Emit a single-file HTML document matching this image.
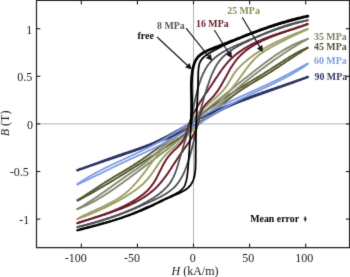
<!DOCTYPE html>
<html><head><meta charset="utf-8">
<style>
html,body{margin:0;padding:0;background:#fff;}
body{width:350px;height:277px;overflow:hidden;}
svg{display:block;}
text{font-family:"Liberation Serif",serif;}
.b{font-weight:bold;font-size:9.9px;}
.t{font-size:12px;fill:#1a1a1a;}
</style></head><body>
<svg width="350" height="277" viewBox="0 0 350 277" style="opacity:0.999;will-change:transform">
<defs><filter id="soft" x="0" y="0" width="100%" height="100%" color-interpolation-filters="sRGB"><feConvolveMatrix order="3" kernelMatrix="0.0114 0.084 0.0114 0.084 0.6184 0.084 0.0114 0.084 0.0114" divisor="1" edgeMode="duplicate" preserveAlpha="false"/></filter></defs>
<rect width="350" height="277" fill="#fff"/>
<g filter="url(#soft)">
<!-- grid zero lines -->
<line x1="193.5" y1="1" x2="193.5" y2="247" stroke="#b4b4b4" stroke-width="1"/>
<line x1="36" y1="123.9" x2="349" y2="123.9" stroke="#b4b4b4" stroke-width="1"/>
<path d="M77.4,200.1 L78.3,199.6 L79.1,199.1 L80.0,198.6 L80.8,198.1 L81.7,197.6 L82.5,197.1 L83.4,196.5 L84.2,196.0 L85.0,195.5 L85.9,194.9 L86.7,194.4 L87.5,193.9 L88.4,193.3 L89.2,192.8 L90.0,192.2 L90.9,191.7 L91.7,191.2 L92.5,190.6 L93.3,190.1 L94.2,189.5 L95.0,189.0 L95.8,188.4 L96.6,187.9 L97.5,187.3 L98.3,186.8 L99.1,186.2 L100.0,185.7 L100.8,185.1 L101.6,184.6 L102.4,184.0 L103.3,183.5 L104.1,183.0 L104.9,182.4 L105.8,181.9 L106.6,181.4 L107.5,180.8 L108.3,180.3 L109.2,179.8 L110.0,179.3 L110.9,178.8 L111.7,178.3 L112.6,177.7 L113.4,177.2 L114.3,176.7 L115.1,176.2 L116.0,175.7 L116.8,175.2 L117.7,174.7 L118.5,174.2 L119.4,173.7 L120.3,173.2 L121.1,172.7 L122.0,172.2 L122.8,171.7 L123.7,171.2 L124.5,170.7 L125.4,170.2 L126.2,169.6 L127.1,169.1 L127.9,168.6 L128.8,168.1 L129.6,167.6 L130.4,167.1 L131.3,166.5 L132.1,166.0 L133.0,165.5 L133.8,164.9 L134.6,164.4 L135.5,163.9 L136.3,163.3 L137.1,162.8 L137.9,162.2 L138.8,161.7 L139.6,161.1 L140.4,160.6 L141.2,160.0 L142.0,159.5 L142.8,158.9 L143.7,158.3 L144.5,157.8 L145.3,157.2 L146.1,156.6 L146.9,156.1 L147.7,155.5 L148.5,154.9 L149.3,154.3 L150.1,153.8 L150.9,153.2 L151.7,152.6 L152.5,152.0 L153.3,151.4 L154.1,150.8 L154.9,150.3 L155.7,149.7 L156.5,149.1 L157.3,148.5 L158.1,147.9 L158.9,147.3 L159.6,146.7 L160.4,146.1 L161.2,145.5 L162.0,144.9 L162.8,144.3 L163.6,143.7 L164.4,143.1 L165.1,142.5 L165.9,141.9 L166.7,141.3 L167.5,140.7 L168.3,140.0 L169.1,139.4 L169.8,138.8 L170.6,138.2 L171.4,137.6 L172.2,137.0 L173.0,136.4 L173.7,135.8 L174.5,135.2 L175.3,134.5 L176.1,133.9 L176.8,133.3 L177.6,132.7 L178.4,132.1 L179.2,131.5 L180.0,130.9 L180.7,130.3 L181.5,129.6 L182.3,129.0 L183.1,128.4 L183.9,127.8 L184.6,127.2 L185.4,126.6 L186.2,126.0 L187.0,125.4 L187.8,124.8 L188.6,124.1 L189.3,123.5 L190.1,122.9 L190.9,122.3 L191.7,121.7 L192.5,121.1 L193.3,120.5 L194.1,119.9 L194.8,119.3 L195.6,118.7 L196.4,118.1 L197.2,117.5 L198.0,116.9 L198.8,116.3 L199.6,115.7 L200.4,115.1 L201.2,114.5 L202.0,113.9 L202.8,113.3 L203.6,112.7 L204.4,112.2 L205.2,111.6 L206.0,111.0 L206.8,110.4 L207.6,109.8 L208.4,109.2 L209.2,108.7 L210.0,108.1 L210.8,107.5 L211.6,106.9 L212.4,106.3 L213.2,105.8 L214.0,105.2 L214.8,104.6 L215.6,104.0 L216.5,103.5 L217.3,102.9 L218.1,102.3 L218.9,101.8 L219.7,101.2 L220.5,100.6 L221.4,100.1 L222.2,99.5 L223.0,99.0 L223.8,98.4 L224.6,97.9 L225.5,97.3 L226.3,96.8 L227.1,96.2 L227.9,95.7 L228.8,95.1 L229.6,94.6 L230.4,94.0 L231.3,93.5 L232.1,93.0 L232.9,92.4 L233.8,91.9 L234.6,91.4 L235.4,90.8 L236.3,90.3 L237.1,89.8 L238.0,89.2 L238.8,88.7 L239.6,88.2 L240.5,87.7 L241.3,87.2 L242.2,86.6 L243.0,86.1 L243.9,85.6 L244.7,85.1 L245.6,84.6 L246.4,84.1 L247.3,83.5 L248.1,83.0 L249.0,82.5 L249.8,82.0 L250.6,81.5 L251.5,81.0 L252.3,80.5 L253.2,79.9 L254.0,79.4 L254.9,78.9 L255.7,78.4 L256.6,77.9 L257.4,77.4 L258.3,76.9 L259.1,76.3 L260.0,75.8 L260.8,75.3 L261.7,74.8 L262.5,74.3 L263.4,73.7 L264.2,73.2 L265.0,72.7 L265.9,72.2 L266.7,71.6 L267.6,71.1 L268.4,70.6 L269.2,70.0 L270.1,69.5 L270.9,69.0 L271.7,68.4 L272.6,67.9 L273.4,67.4 L274.2,66.8 L275.1,66.3 L275.9,65.7 L276.8,65.2 L277.6,64.7 L278.4,64.1 L279.3,63.6 L280.1,63.1 L280.9,62.5 L281.8,62.0 L282.6,61.5 L283.4,60.9 L284.3,60.4 L285.1,59.9 L286.0,59.3 L286.8,58.8 L287.6,58.3 L288.5,57.8 L289.3,57.2 L290.2,56.7 L291.0,56.2 L291.9,55.7 L292.7,55.2 L293.6,54.7 L294.4,54.2 L295.3,53.7 L296.1,53.2 L297.0,52.7 L297.9,52.3 L298.7,51.8 L299.6,51.3 L300.5,50.9 L301.4,50.4 L302.3,50.0 L303.2,49.6 L304.1,49.2 L305.0,48.8 L305.9,48.4 L306.8,48.0 L307.7,47.6" stroke="#56562c" stroke-width="1.9" fill="none" stroke-linecap="round" stroke-linejoin="round"/>
<path d="M77.6,200.7 L78.4,200.2 L79.3,199.8 L80.2,199.3 L81.0,198.8 L81.9,198.4 L82.8,197.9 L83.7,197.4 L84.5,197.0 L85.4,196.5 L86.3,196.0 L87.1,195.5 L88.0,195.1 L88.8,194.6 L89.7,194.1 L90.6,193.6 L91.4,193.1 L92.3,192.6 L93.2,192.2 L94.0,191.7 L94.9,191.2 L95.7,190.7 L96.6,190.2 L97.4,189.7 L98.3,189.2 L99.2,188.7 L100.0,188.2 L100.9,187.7 L101.7,187.2 L102.6,186.7 L103.4,186.2 L104.3,185.7 L105.1,185.2 L106.0,184.7 L106.8,184.2 L107.7,183.6 L108.5,183.1 L109.4,182.6 L110.2,182.1 L111.1,181.6 L111.9,181.1 L112.8,180.6 L113.6,180.1 L114.5,179.5 L115.3,179.0 L116.2,178.5 L117.0,178.0 L117.9,177.5 L118.7,176.9 L119.6,176.4 L120.4,175.9 L121.3,175.4 L122.1,174.9 L122.9,174.3 L123.8,173.8 L124.6,173.3 L125.5,172.8 L126.3,172.2 L127.2,171.7 L128.0,171.2 L128.8,170.7 L129.7,170.1 L130.5,169.6 L131.4,169.1 L132.2,168.6 L133.1,168.0 L133.9,167.5 L134.7,167.0 L135.6,166.5 L136.4,165.9 L137.3,165.4 L138.1,164.9 L138.9,164.3 L139.8,163.8 L140.6,163.3 L141.5,162.8 L142.3,162.2 L143.1,161.7 L144.0,161.2 L144.8,160.6 L145.7,160.1 L146.5,159.6 L147.3,159.0 L148.2,158.5 L149.0,158.0 L149.8,157.4 L150.7,156.9 L151.5,156.4 L152.3,155.8 L153.2,155.3 L154.0,154.8 L154.8,154.2 L155.7,153.7 L156.5,153.1 L157.3,152.6 L158.2,152.1 L159.0,151.5 L159.8,151.0 L160.7,150.4 L161.5,149.9 L162.3,149.4 L163.1,148.8 L164.0,148.3 L164.8,147.7 L165.6,147.2 L166.4,146.6 L167.3,146.1 L168.1,145.5 L168.9,145.0 L169.7,144.4 L170.6,143.9 L171.4,143.3 L172.2,142.8 L173.0,142.2 L173.9,141.7 L174.7,141.1 L175.5,140.5 L176.3,140.0 L177.1,139.4 L177.9,138.9 L178.8,138.3 L179.6,137.7 L180.4,137.2 L181.2,136.6 L182.0,136.0 L182.8,135.5 L183.6,134.9 L184.5,134.3 L185.3,133.8 L186.1,133.2 L186.9,132.6 L187.7,132.0 L188.5,131.5 L189.3,130.9 L190.1,130.3 L190.9,129.7 L191.7,129.1 L192.5,128.6 L193.3,128.0 L194.1,127.4 L194.9,126.8 L195.7,126.2 L196.5,125.6 L197.3,125.0 L198.1,124.4 L198.9,123.8 L199.7,123.2 L200.5,122.6 L201.3,122.0 L202.1,121.4 L202.9,120.8 L203.7,120.2 L204.4,119.6 L205.2,119.0 L206.0,118.4 L206.8,117.8 L207.6,117.2 L208.4,116.6 L209.1,115.9 L209.9,115.3 L210.7,114.7 L211.4,114.1 L212.2,113.4 L213.0,112.8 L213.7,112.2 L214.5,111.5 L215.3,110.9 L216.0,110.2 L216.8,109.6 L217.5,108.9 L218.3,108.3 L219.0,107.6 L219.8,107.0 L220.5,106.3 L221.3,105.7 L222.0,105.0 L222.8,104.4 L223.5,103.7 L224.3,103.1 L225.0,102.4 L225.8,101.8 L226.5,101.1 L227.3,100.5 L228.0,99.8 L228.8,99.2 L229.6,98.6 L230.3,98.0 L231.1,97.3 L231.9,96.7 L232.6,96.1 L233.4,95.5 L234.2,94.9 L235.0,94.3 L235.8,93.7 L236.6,93.1 L237.4,92.6 L238.2,92.0 L239.0,91.4 L239.8,90.9 L240.6,90.3 L241.5,89.8 L242.3,89.2 L243.1,88.7 L244.0,88.2 L244.8,87.6 L245.6,87.1 L246.5,86.6 L247.3,86.1 L248.2,85.5 L249.0,85.0 L249.9,84.5 L250.7,84.0 L251.6,83.5 L252.4,83.0 L253.3,82.5 L254.1,82.0 L255.0,81.5 L255.8,80.9 L256.7,80.4 L257.5,79.9 L258.4,79.4 L259.2,78.9 L260.1,78.4 L261.0,77.9 L261.8,77.4 L262.7,76.9 L263.5,76.4 L264.4,75.9 L265.2,75.3 L266.0,74.8 L266.9,74.3 L267.7,73.8 L268.6,73.2 L269.4,72.7 L270.2,72.2 L271.1,71.6 L271.9,71.1 L272.7,70.6 L273.6,70.0 L274.4,69.5 L275.2,68.9 L276.1,68.4 L276.9,67.9 L277.7,67.3 L278.6,66.8 L279.4,66.2 L280.2,65.7 L281.0,65.1 L281.9,64.6 L282.7,64.0 L283.5,63.5 L284.3,62.9 L285.2,62.4 L286.0,61.8 L286.8,61.3 L287.7,60.7 L288.5,60.2 L289.3,59.6 L290.1,59.1 L291.0,58.5 L291.8,58.0 L292.6,57.5 L293.4,56.9 L294.3,56.4 L295.1,55.8 L295.9,55.3 L296.8,54.7 L297.6,54.2 L298.4,53.7 L299.3,53.1 L300.1,52.6 L300.9,52.1 L301.8,51.5 L302.6,51.0 L303.5,50.5 L304.3,50.0 L305.1,49.5 L306.0,48.9 L306.8,48.4 L307.7,47.9" stroke="#56562c" stroke-width="1.9" fill="none" stroke-linecap="round" stroke-linejoin="round"/>
<path d="M77.3,209.1 L78.2,208.6 L79.1,208.1 L80.0,207.6 L80.9,207.1 L81.8,206.5 L82.7,206.0 L83.6,205.5 L84.4,204.9 L85.3,204.4 L86.2,203.8 L87.1,203.3 L87.9,202.7 L88.8,202.2 L89.7,201.6 L90.5,201.1 L91.4,200.5 L92.3,199.9 L93.1,199.4 L94.0,198.8 L94.8,198.2 L95.7,197.6 L96.6,197.1 L97.4,196.5 L98.3,195.9 L99.1,195.3 L99.9,194.7 L100.8,194.1 L101.6,193.5 L102.5,192.9 L103.3,192.4 L104.2,191.8 L105.0,191.2 L105.9,190.6 L106.7,190.0 L107.5,189.4 L108.4,188.8 L109.2,188.2 L110.1,187.6 L110.9,187.0 L111.7,186.4 L112.6,185.8 L113.4,185.2 L114.2,184.6 L115.1,184.0 L115.9,183.4 L116.8,182.8 L117.6,182.2 L118.4,181.6 L119.3,181.0 L120.1,180.4 L121.0,179.8 L121.8,179.2 L122.7,178.6 L123.5,178.0 L124.3,177.4 L125.2,176.8 L126.0,176.2 L126.9,175.6 L127.7,175.0 L128.6,174.4 L129.4,173.8 L130.3,173.3 L131.1,172.7 L132.0,172.1 L132.9,171.5 L133.7,170.9 L134.6,170.4 L135.4,169.8 L136.3,169.2 L137.1,168.6 L138.0,168.0 L138.8,167.4 L139.7,166.8 L140.5,166.3 L141.3,165.6 L142.2,165.0 L143.0,164.4 L143.8,163.8 L144.6,163.2 L145.4,162.5 L146.2,161.9 L147.0,161.2 L147.8,160.6 L148.6,159.9 L149.4,159.3 L150.2,158.6 L150.9,157.9 L151.7,157.2 L152.5,156.6 L153.2,155.9 L154.0,155.2 L154.7,154.5 L155.5,153.8 L156.2,153.1 L157.0,152.4 L157.7,151.7 L158.5,151.0 L159.2,150.2 L160.0,149.5 L160.7,148.8 L161.5,148.1 L162.2,147.4 L163.0,146.7 L163.7,146.0 L164.4,145.3 L165.2,144.5 L165.9,143.8 L166.7,143.1 L167.4,142.4 L168.2,141.7 L168.9,141.0 L169.7,140.3 L170.4,139.6 L171.2,138.9 L171.9,138.2 L172.7,137.5 L173.4,136.8 L174.2,136.1 L174.9,135.4 L175.7,134.7 L176.5,134.0 L177.2,133.3 L178.0,132.6 L178.8,132.0 L179.6,131.3 L180.4,130.6 L181.1,130.0 L181.9,129.3 L182.7,128.7 L183.5,128.0 L184.3,127.4 L185.1,126.7 L185.9,126.1 L186.7,125.4 L187.5,124.8 L188.3,124.1 L189.1,123.5 L190.0,122.9 L190.8,122.2 L191.6,121.6 L192.4,120.9 L193.2,120.3 L194.0,119.6 L194.8,119.0 L195.6,118.3 L196.4,117.7 L197.2,117.1 L198.0,116.4 L198.8,115.8 L199.6,115.1 L200.4,114.5 L201.2,113.8 L202.0,113.2 L202.8,112.5 L203.6,111.9 L204.4,111.2 L205.2,110.6 L206.0,109.9 L206.8,109.3 L207.6,108.6 L208.4,108.0 L209.2,107.3 L210.0,106.7 L210.8,106.0 L211.6,105.4 L212.4,104.7 L213.2,104.1 L214.0,103.4 L214.8,102.8 L215.6,102.1 L216.4,101.5 L217.2,100.8 L218.0,100.2 L218.8,99.5 L219.6,98.9 L220.4,98.2 L221.2,97.6 L222.0,96.9 L222.8,96.3 L223.6,95.6 L224.4,95.0 L225.2,94.3 L226.0,93.7 L226.8,93.0 L227.6,92.4 L228.4,91.7 L229.2,91.1 L230.1,90.4 L230.9,89.8 L231.7,89.1 L232.5,88.5 L233.3,87.8 L234.1,87.2 L234.9,86.5 L235.7,85.9 L236.5,85.2 L237.3,84.6 L238.1,83.9 L238.9,83.3 L239.7,82.7 L240.5,82.0 L241.3,81.4 L242.1,80.7 L242.9,80.1 L243.7,79.4 L244.5,78.8 L245.3,78.1 L246.2,77.5 L247.0,76.9 L247.8,76.2 L248.6,75.6 L249.4,74.9 L250.2,74.3 L251.0,73.7 L251.8,73.0 L252.6,72.4 L253.4,71.7 L254.3,71.1 L255.1,70.5 L255.9,69.8 L256.7,69.2 L257.5,68.6 L258.3,67.9 L259.1,67.3 L260.0,66.7 L260.8,66.0 L261.6,65.4 L262.4,64.8 L263.2,64.2 L264.1,63.5 L264.9,62.9 L265.7,62.3 L266.5,61.7 L267.4,61.1 L268.2,60.5 L269.0,59.9 L269.8,59.3 L270.7,58.6 L271.5,58.1 L272.4,57.5 L273.2,56.9 L274.0,56.3 L274.9,55.7 L275.7,55.1 L276.6,54.5 L277.5,54.0 L278.3,53.4 L279.2,52.9 L280.0,52.3 L280.9,51.8 L281.8,51.2 L282.7,50.7 L283.5,50.1 L284.4,49.6 L285.3,49.1 L286.2,48.6 L287.1,48.1 L288.0,47.6 L288.9,47.1 L289.8,46.6 L290.7,46.1 L291.6,45.7 L292.5,45.2 L293.5,44.7 L294.4,44.3 L295.3,43.8 L296.3,43.4 L297.2,43.0 L298.2,42.6 L299.1,42.2 L300.1,41.8 L301.0,41.4 L302.0,41.0 L303.0,40.6 L304.0,40.3 L305.0,39.9 L306.0,39.6 L307.0,39.2 L308.0,38.9" stroke="#858870" stroke-width="1.9" fill="none" stroke-linecap="round" stroke-linejoin="round"/>
<path d="M77.2,209.1 L78.1,208.7 L79.1,208.3 L80.1,208.0 L81.0,207.6 L82.0,207.2 L83.0,206.7 L83.9,206.3 L84.9,205.9 L85.8,205.5 L86.7,205.0 L87.7,204.6 L88.6,204.1 L89.5,203.7 L90.5,203.2 L91.4,202.7 L92.3,202.2 L93.2,201.8 L94.1,201.3 L95.0,200.8 L95.9,200.3 L96.8,199.8 L97.7,199.3 L98.6,198.7 L99.5,198.2 L100.4,197.7 L101.2,197.2 L102.1,196.6 L103.0,196.1 L103.9,195.5 L104.7,195.0 L105.6,194.4 L106.5,193.9 L107.3,193.3 L108.2,192.8 L109.0,192.2 L109.9,191.6 L110.8,191.1 L111.6,190.5 L112.5,189.9 L113.3,189.3 L114.2,188.7 L115.0,188.2 L115.8,187.6 L116.7,187.0 L117.5,186.4 L118.4,185.8 L119.2,185.2 L120.0,184.6 L120.9,184.0 L121.7,183.4 L122.5,182.8 L123.4,182.2 L124.2,181.6 L125.0,181.0 L125.9,180.3 L126.7,179.7 L127.5,179.1 L128.4,178.5 L129.2,177.9 L130.0,177.3 L130.8,176.7 L131.7,176.1 L132.5,175.4 L133.3,174.8 L134.2,174.2 L135.0,173.6 L135.8,173.0 L136.6,172.4 L137.5,171.8 L138.3,171.1 L139.1,170.5 L140.0,169.9 L140.8,169.3 L141.6,168.7 L142.4,168.1 L143.3,167.4 L144.1,166.8 L144.9,166.2 L145.7,165.6 L146.6,165.0 L147.4,164.3 L148.2,163.7 L149.0,163.1 L149.9,162.5 L150.7,161.9 L151.5,161.2 L152.3,160.6 L153.2,160.0 L154.0,159.4 L154.8,158.7 L155.6,158.1 L156.4,157.5 L157.3,156.9 L158.1,156.2 L158.9,155.6 L159.7,155.0 L160.5,154.3 L161.4,153.7 L162.2,153.1 L163.0,152.5 L163.8,151.8 L164.6,151.2 L165.4,150.6 L166.3,149.9 L167.1,149.3 L167.9,148.7 L168.7,148.0 L169.5,147.4 L170.3,146.8 L171.1,146.1 L171.9,145.5 L172.8,144.8 L173.6,144.2 L174.4,143.6 L175.2,142.9 L176.0,142.3 L176.8,141.6 L177.6,141.0 L178.4,140.4 L179.2,139.7 L180.0,139.1 L180.8,138.4 L181.6,137.8 L182.4,137.1 L183.2,136.5 L184.0,135.8 L184.8,135.2 L185.6,134.5 L186.4,133.9 L187.2,133.2 L188.0,132.6 L188.8,131.9 L189.6,131.3 L190.4,130.6 L191.2,130.0 L192.0,129.3 L192.8,128.7 L193.6,128.0 L194.4,127.3 L195.2,126.7 L196.0,126.0 L196.8,125.4 L197.6,124.7 L198.4,124.0 L199.1,123.4 L199.9,122.7 L200.7,122.0 L201.5,121.4 L202.3,120.7 L203.1,120.0 L203.8,119.4 L204.6,118.7 L205.4,118.0 L206.2,117.3 L207.0,116.7 L207.7,116.0 L208.5,115.3 L209.3,114.6 L210.0,113.9 L210.8,113.3 L211.6,112.6 L212.3,111.9 L213.1,111.2 L213.8,110.5 L214.6,109.8 L215.4,109.1 L216.1,108.4 L216.9,107.7 L217.6,107.0 L218.4,106.3 L219.1,105.6 L219.8,104.9 L220.6,104.1 L221.3,103.4 L222.1,102.7 L222.8,102.0 L223.6,101.3 L224.3,100.6 L225.1,99.9 L225.8,99.2 L226.5,98.5 L227.3,97.7 L228.0,97.0 L228.8,96.3 L229.5,95.6 L230.3,94.9 L231.0,94.2 L231.8,93.5 L232.5,92.8 L233.3,92.1 L234.1,91.4 L234.8,90.8 L235.6,90.1 L236.4,89.4 L237.1,88.7 L237.9,88.0 L238.7,87.4 L239.5,86.7 L240.3,86.0 L241.0,85.4 L241.8,84.7 L242.6,84.0 L243.4,83.4 L244.2,82.7 L245.0,82.1 L245.8,81.4 L246.6,80.8 L247.4,80.2 L248.2,79.5 L249.0,78.9 L249.8,78.2 L250.6,77.6 L251.4,77.0 L252.3,76.3 L253.1,75.7 L253.9,75.1 L254.7,74.4 L255.5,73.8 L256.3,73.2 L257.2,72.6 L258.0,71.9 L258.8,71.3 L259.6,70.7 L260.5,70.1 L261.3,69.4 L262.1,68.8 L262.9,68.2 L263.8,67.6 L264.6,67.0 L265.4,66.4 L266.3,65.8 L267.1,65.1 L267.9,64.5 L268.8,63.9 L269.6,63.3 L270.4,62.7 L271.3,62.1 L272.1,61.5 L273.0,60.9 L273.8,60.3 L274.6,59.7 L275.5,59.1 L276.3,58.5 L277.2,58.0 L278.0,57.4 L278.9,56.8 L279.7,56.2 L280.6,55.6 L281.4,55.0 L282.3,54.5 L283.1,53.9 L284.0,53.3 L284.9,52.7 L285.7,52.2 L286.6,51.6 L287.4,51.0 L288.3,50.5 L289.2,49.9 L290.0,49.4 L290.9,48.8 L291.8,48.2 L292.7,47.7 L293.5,47.2 L294.4,46.6 L295.3,46.1 L296.2,45.5 L297.0,45.0 L297.9,44.5 L298.8,43.9 L299.7,43.4 L300.6,42.9 L301.5,42.3 L302.4,41.8 L303.2,41.3 L304.1,40.8 L305.0,40.3 L305.9,39.8 L306.8,39.3 L307.7,38.8" stroke="#858870" stroke-width="1.9" fill="none" stroke-linecap="round" stroke-linejoin="round"/>
<path d="M77.4,219.0 L78.4,218.4 L79.3,217.9 L80.2,217.4 L81.1,216.9 L82.1,216.4 L83.0,215.9 L84.0,215.4 L85.0,214.9 L85.9,214.5 L86.9,214.0 L87.9,213.5 L88.9,213.1 L89.9,212.6 L90.9,212.1 L91.9,211.7 L92.9,211.2 L93.9,210.8 L94.9,210.3 L95.9,209.9 L96.9,209.4 L97.9,208.9 L98.9,208.5 L99.9,208.0 L101.0,207.6 L102.0,207.1 L103.0,206.6 L104.0,206.2 L105.0,205.7 L106.0,205.2 L107.0,204.7 L108.0,204.2 L109.0,203.7 L109.9,203.2 L110.9,202.7 L111.9,202.2 L112.9,201.6 L113.8,201.1 L114.8,200.6 L115.7,200.0 L116.6,199.5 L117.6,198.9 L118.5,198.3 L119.4,197.7 L120.3,197.1 L121.2,196.5 L122.1,195.8 L122.9,195.2 L123.8,194.5 L124.6,193.9 L125.5,193.2 L126.3,192.5 L127.1,191.8 L127.9,191.1 L128.7,190.4 L129.5,189.6 L130.3,188.9 L131.0,188.1 L131.8,187.4 L132.6,186.6 L133.3,185.8 L134.0,185.0 L134.8,184.2 L135.5,183.4 L136.2,182.6 L136.9,181.8 L137.6,181.0 L138.3,180.1 L139.0,179.3 L139.7,178.4 L140.4,177.6 L141.1,176.7 L141.8,175.9 L142.4,175.0 L143.1,174.2 L143.8,173.3 L144.4,172.4 L145.1,171.5 L145.7,170.7 L146.4,169.8 L147.0,168.9 L147.7,168.0 L148.3,167.1 L149.0,166.2 L149.6,165.4 L150.3,164.5 L150.9,163.6 L151.5,162.7 L152.2,161.8 L152.8,160.9 L153.5,160.1 L154.2,159.2 L154.8,158.3 L155.5,157.5 L156.2,156.6 L156.8,155.7 L157.5,154.9 L158.2,154.1 L158.9,153.2 L159.6,152.4 L160.3,151.6 L161.1,150.8 L161.8,150.0 L162.6,149.2 L163.3,148.4 L164.1,147.6 L164.9,146.8 L165.6,146.1 L166.5,145.3 L167.3,144.6 L168.1,143.9 L168.9,143.2 L169.8,142.4 L170.6,141.7 L171.4,141.0 L172.3,140.3 L173.1,139.6 L174.0,138.9 L174.8,138.2 L175.7,137.5 L176.5,136.8 L177.4,136.1 L178.2,135.4 L179.0,134.7 L179.8,133.9 L180.6,133.2 L181.4,132.4 L182.2,131.6 L182.9,130.9 L183.7,130.1 L184.4,129.3 L185.1,128.4 L185.8,127.6 L186.5,126.8 L187.2,126.0 L187.9,125.1 L188.6,124.3 L189.3,123.4 L190.0,122.6 L190.7,121.7 L191.3,120.9 L192.0,120.0 L192.7,119.2 L193.4,118.4 L194.1,117.5 L194.8,116.7 L195.6,115.9 L196.3,115.1 L197.1,114.3 L197.8,113.6 L198.6,112.8 L199.4,112.0 L200.2,111.3 L201.0,110.5 L201.8,109.8 L202.6,109.1 L203.4,108.4 L204.3,107.6 L205.1,106.9 L205.9,106.2 L206.8,105.5 L207.6,104.8 L208.5,104.1 L209.3,103.4 L210.1,102.7 L211.0,102.0 L211.8,101.3 L212.6,100.6 L213.5,99.8 L214.3,99.1 L215.1,98.4 L215.9,97.7 L216.7,96.9 L217.5,96.2 L218.3,95.5 L219.1,94.7 L219.9,93.9 L220.6,93.2 L221.4,92.4 L222.1,91.6 L222.8,90.8 L223.5,90.0 L224.2,89.1 L224.9,88.3 L225.5,87.4 L226.2,86.5 L226.8,85.6 L227.4,84.7 L228.0,83.8 L228.5,82.9 L229.1,81.9 L229.6,81.0 L230.2,80.0 L230.8,79.1 L231.3,78.1 L231.9,77.2 L232.4,76.3 L233.0,75.3 L233.6,74.4 L234.2,73.5 L234.8,72.6 L235.4,71.7 L236.1,70.9 L236.8,70.0 L237.5,69.2 L238.2,68.4 L238.9,67.6 L239.7,66.8 L240.5,66.1 L241.2,65.3 L242.0,64.6 L242.8,63.8 L243.6,63.1 L244.4,62.4 L245.3,61.7 L246.1,61.0 L246.9,60.3 L247.8,59.6 L248.6,58.9 L249.5,58.3 L250.3,57.6 L251.2,57.0 L252.1,56.3 L252.9,55.7 L253.8,55.0 L254.7,54.4 L255.6,53.8 L256.5,53.2 L257.4,52.6 L258.3,52.0 L259.3,51.4 L260.2,50.8 L261.1,50.3 L262.0,49.7 L263.0,49.1 L263.9,48.6 L264.9,48.0 L265.8,47.5 L266.8,47.0 L267.7,46.4 L268.7,45.9 L269.7,45.4 L270.6,44.9 L271.6,44.4 L272.6,43.9 L273.6,43.4 L274.5,42.9 L275.5,42.4 L276.5,41.9 L277.5,41.4 L278.5,41.0 L279.5,40.5 L280.5,40.0 L281.5,39.6 L282.5,39.1 L283.5,38.7 L284.5,38.2 L285.5,37.8 L286.5,37.3 L287.5,36.9 L288.5,36.5 L289.5,36.0 L290.6,35.6 L291.6,35.2 L292.6,34.8 L293.6,34.4 L294.6,34.0 L295.6,33.6 L296.6,33.2 L297.6,32.8 L298.7,32.4 L299.7,32.0 L300.7,31.6 L301.7,31.2 L302.7,30.8 L303.7,30.4 L304.7,30.0 L305.7,29.7 L306.7,29.3 L307.7,28.9" stroke="#9e9e68" stroke-width="1.9" fill="none" stroke-linecap="round" stroke-linejoin="round"/>
<path d="M77.3,219.1 L78.4,218.7 L79.4,218.3 L80.4,217.9 L81.4,217.5 L82.4,217.2 L83.5,216.8 L84.5,216.4 L85.5,216.0 L86.5,215.6 L87.5,215.2 L88.5,214.8 L89.5,214.3 L90.5,213.9 L91.5,213.5 L92.6,213.1 L93.6,212.7 L94.6,212.2 L95.6,211.8 L96.6,211.4 L97.6,210.9 L98.6,210.5 L99.6,210.1 L100.6,209.6 L101.6,209.2 L102.6,208.7 L103.6,208.2 L104.5,207.8 L105.5,207.3 L106.5,206.8 L107.5,206.4 L108.5,205.9 L109.5,205.4 L110.5,204.9 L111.4,204.4 L112.4,203.9 L113.4,203.4 L114.3,202.9 L115.3,202.4 L116.3,201.9 L117.2,201.4 L118.2,200.8 L119.1,200.3 L120.1,199.8 L121.0,199.2 L122.0,198.7 L122.9,198.1 L123.9,197.6 L124.8,197.0 L125.8,196.4 L126.7,195.9 L127.6,195.3 L128.5,194.7 L129.5,194.1 L130.4,193.5 L131.3,192.9 L132.2,192.3 L133.1,191.7 L134.0,191.1 L134.9,190.4 L135.8,189.8 L136.6,189.1 L137.5,188.5 L138.4,187.8 L139.2,187.1 L140.1,186.4 L140.9,185.7 L141.7,185.0 L142.5,184.3 L143.3,183.6 L144.1,182.8 L144.8,182.0 L145.6,181.3 L146.3,180.5 L147.0,179.7 L147.7,178.9 L148.4,178.0 L149.1,177.2 L149.8,176.4 L150.4,175.5 L151.1,174.6 L151.7,173.8 L152.3,172.9 L153.0,172.0 L153.6,171.1 L154.2,170.2 L154.8,169.3 L155.4,168.4 L156.0,167.5 L156.6,166.6 L157.3,165.7 L157.9,164.8 L158.5,163.9 L159.1,163.0 L159.7,162.1 L160.4,161.2 L161.0,160.4 L161.7,159.5 L162.3,158.7 L163.0,157.8 L163.7,157.0 L164.4,156.2 L165.1,155.3 L165.9,154.5 L166.6,153.8 L167.4,153.0 L168.1,152.2 L168.9,151.5 L169.8,150.8 L170.6,150.1 L171.4,149.4 L172.2,148.7 L173.1,148.0 L173.9,147.3 L174.8,146.6 L175.7,145.9 L176.5,145.2 L177.4,144.5 L178.2,143.8 L179.1,143.1 L179.9,142.5 L180.8,141.7 L181.6,141.0 L182.4,140.3 L183.2,139.6 L184.0,138.8 L184.8,138.1 L185.6,137.3 L186.4,136.6 L187.1,135.8 L187.9,135.0 L188.6,134.2 L189.4,133.4 L190.1,132.7 L190.9,131.9 L191.6,131.1 L192.3,130.3 L193.1,129.4 L193.8,128.6 L194.5,127.8 L195.3,127.0 L196.0,126.2 L196.7,125.4 L197.5,124.6 L198.2,123.8 L199.0,123.0 L199.7,122.2 L200.5,121.5 L201.2,120.7 L202.0,119.9 L202.7,119.1 L203.5,118.3 L204.3,117.6 L205.0,116.8 L205.8,116.0 L206.6,115.2 L207.4,114.5 L208.1,113.7 L208.9,112.9 L209.7,112.2 L210.5,111.4 L211.3,110.6 L212.0,109.9 L212.8,109.1 L213.6,108.3 L214.4,107.6 L215.1,106.8 L215.9,106.0 L216.7,105.3 L217.5,104.5 L218.2,103.7 L219.0,102.9 L219.8,102.1 L220.5,101.4 L221.3,100.6 L222.0,99.8 L222.8,99.0 L223.5,98.2 L224.2,97.4 L225.0,96.6 L225.7,95.8 L226.4,94.9 L227.1,94.1 L227.9,93.3 L228.6,92.5 L229.3,91.6 L229.9,90.8 L230.6,89.9 L231.3,89.1 L232.0,88.2 L232.7,87.4 L233.3,86.5 L234.0,85.7 L234.7,84.8 L235.3,83.9 L236.0,83.0 L236.6,82.2 L237.3,81.3 L237.9,80.4 L238.6,79.5 L239.2,78.6 L239.9,77.8 L240.5,76.9 L241.2,76.0 L241.8,75.1 L242.4,74.2 L243.1,73.3 L243.7,72.4 L244.4,71.5 L245.0,70.6 L245.6,69.8 L246.3,68.9 L246.9,68.0 L247.6,67.1 L248.3,66.3 L248.9,65.4 L249.6,64.6 L250.3,63.7 L251.0,62.9 L251.7,62.1 L252.4,61.3 L253.2,60.5 L253.9,59.7 L254.7,58.9 L255.4,58.2 L256.2,57.4 L257.0,56.7 L257.8,56.0 L258.7,55.3 L259.5,54.6 L260.4,54.0 L261.3,53.3 L262.2,52.7 L263.1,52.1 L264.0,51.5 L264.9,50.9 L265.8,50.3 L266.7,49.7 L267.7,49.2 L268.6,48.6 L269.6,48.1 L270.5,47.5 L271.5,47.0 L272.4,46.4 L273.4,45.9 L274.4,45.4 L275.3,44.9 L276.3,44.3 L277.3,43.8 L278.2,43.3 L279.2,42.8 L280.2,42.3 L281.1,41.8 L282.1,41.3 L283.1,40.8 L284.1,40.3 L285.1,39.8 L286.0,39.3 L287.0,38.8 L288.0,38.3 L289.0,37.8 L290.0,37.4 L291.0,36.9 L291.9,36.4 L292.9,35.9 L293.9,35.5 L294.9,35.0 L295.9,34.5 L296.9,34.1 L297.9,33.6 L298.9,33.2 L299.8,32.7 L300.8,32.3 L301.8,31.8 L302.8,31.3 L303.8,30.9 L304.8,30.5 L305.8,30.0 L306.8,29.6 L307.7,29.1" stroke="#9e9e68" stroke-width="1.9" fill="none" stroke-linecap="round" stroke-linejoin="round"/>
<path d="M77.3,170.0 L78.2,169.7 L79.0,169.4 L79.8,169.1 L80.7,168.8 L81.5,168.6 L82.4,168.3 L83.2,168.0 L84.1,167.7 L84.9,167.4 L85.8,167.1 L86.6,166.8 L87.4,166.5 L88.3,166.2 L89.1,165.9 L90.0,165.6 L90.8,165.3 L91.6,165.0 L92.5,164.7 L93.3,164.4 L94.2,164.1 L95.0,163.8 L95.8,163.5 L96.7,163.2 L97.5,162.9 L98.4,162.6 L99.2,162.3 L100.0,161.9 L100.9,161.6 L101.7,161.3 L102.6,161.0 L103.4,160.7 L104.2,160.4 L105.1,160.1 L105.9,159.8 L106.8,159.5 L107.6,159.2 L108.4,158.9 L109.3,158.6 L110.1,158.3 L111.0,158.0 L111.8,157.7 L112.6,157.4 L113.5,157.1 L114.3,156.8 L115.2,156.5 L116.0,156.2 L116.9,155.9 L117.7,155.6 L118.5,155.3 L119.4,155.0 L120.2,154.7 L121.1,154.4 L121.9,154.1 L122.8,153.9 L123.6,153.6 L124.5,153.3 L125.3,153.0 L126.2,152.7 L127.0,152.4 L127.9,152.2 L128.7,151.9 L129.6,151.6 L130.4,151.3 L131.3,151.0 L132.1,150.7 L133.0,150.5 L133.8,150.2 L134.7,149.9 L135.5,149.6 L136.4,149.3 L137.2,149.0 L138.1,148.7 L138.9,148.4 L139.8,148.1 L140.6,147.8 L141.4,147.5 L142.3,147.2 L143.1,146.9 L144.0,146.6 L144.8,146.3 L145.6,146.0 L146.5,145.7 L147.3,145.3 L148.1,145.0 L148.9,144.7 L149.8,144.4 L150.6,144.0 L151.4,143.7 L152.2,143.3 L153.1,143.0 L153.9,142.6 L154.7,142.3 L155.5,141.9 L156.3,141.5 L157.1,141.1 L157.9,140.8 L158.7,140.4 L159.5,140.0 L160.3,139.6 L161.1,139.2 L161.9,138.8 L162.7,138.4 L163.5,138.0 L164.3,137.6 L165.1,137.2 L165.9,136.8 L166.7,136.4 L167.4,136.0 L168.2,135.6 L169.0,135.2 L169.8,134.7 L170.6,134.3 L171.4,133.9 L172.2,133.5 L172.9,133.0 L173.7,132.6 L174.5,132.2 L175.3,131.7 L176.1,131.3 L176.8,130.9 L177.6,130.4 L178.4,130.0 L179.2,129.6 L179.9,129.1 L180.7,128.7 L181.5,128.3 L182.3,127.8 L183.1,127.4 L183.8,127.0 L184.6,126.5 L185.4,126.1 L186.2,125.7 L187.0,125.2 L187.7,124.8 L188.5,124.4 L189.3,123.9 L190.1,123.5 L190.9,123.1 L191.6,122.7 L192.4,122.2 L193.2,121.8 L194.0,121.4 L194.8,121.0 L195.6,120.5 L196.4,120.1 L197.1,119.7 L197.9,119.3 L198.7,118.9 L199.5,118.5 L200.3,118.1 L201.1,117.7 L201.9,117.3 L202.7,116.9 L203.5,116.5 L204.3,116.1 L205.1,115.7 L205.9,115.3 L206.7,114.9 L207.5,114.5 L208.3,114.2 L209.1,113.8 L209.9,113.4 L210.7,113.0 L211.5,112.6 L212.3,112.3 L213.2,111.9 L214.0,111.5 L214.8,111.2 L215.6,110.8 L216.4,110.4 L217.2,110.1 L218.0,109.7 L218.9,109.4 L219.7,109.0 L220.5,108.6 L221.3,108.3 L222.1,107.9 L223.0,107.6 L223.8,107.2 L224.6,106.9 L225.4,106.5 L226.2,106.2 L227.1,105.9 L227.9,105.5 L228.7,105.2 L229.5,104.8 L230.4,104.5 L231.2,104.2 L232.0,103.8 L232.9,103.5 L233.7,103.2 L234.5,102.8 L235.4,102.5 L236.2,102.2 L237.0,101.9 L237.9,101.5 L238.7,101.2 L239.5,100.9 L240.4,100.6 L241.2,100.3 L242.0,99.9 L242.9,99.6 L243.7,99.3 L244.5,99.0 L245.4,98.7 L246.2,98.4 L247.0,98.1 L247.9,97.7 L248.7,97.4 L249.6,97.1 L250.4,96.8 L251.2,96.5 L252.1,96.2 L252.9,95.9 L253.8,95.6 L254.6,95.3 L255.5,95.0 L256.3,94.7 L257.1,94.4 L258.0,94.1 L258.8,93.8 L259.7,93.5 L260.5,93.2 L261.4,92.9 L262.2,92.6 L263.0,92.3 L263.9,92.0 L264.7,91.7 L265.6,91.4 L266.4,91.1 L267.3,90.8 L268.1,90.5 L269.0,90.2 L269.8,89.9 L270.7,89.6 L271.5,89.3 L272.3,89.1 L273.2,88.8 L274.0,88.5 L274.9,88.2 L275.7,87.9 L276.6,87.6 L277.4,87.3 L278.3,87.0 L279.1,86.7 L280.0,86.4 L280.8,86.2 L281.7,85.9 L282.5,85.6 L283.3,85.3 L284.2,85.0 L285.0,84.7 L285.9,84.4 L286.7,84.1 L287.6,83.8 L288.4,83.5 L289.3,83.3 L290.1,83.0 L291.0,82.7 L291.8,82.4 L292.6,82.1 L293.5,81.8 L294.3,81.5 L295.2,81.2 L296.0,80.9 L296.9,80.6 L297.7,80.4 L298.5,80.1 L299.4,79.8 L300.2,79.5 L301.1,79.2 L301.9,78.9 L302.7,78.6 L303.6,78.3 L304.4,78.0 L305.3,77.7 L306.1,77.4 L306.9,77.1 L307.8,76.8" stroke="#2f3366" stroke-width="2.1" fill="none" stroke-linecap="round" stroke-linejoin="round"/>
<path d="M77.4,170.5 L78.2,170.2 L79.0,169.8 L79.9,169.5 L80.7,169.2 L81.5,169.0 L82.4,168.7 L83.2,168.4 L84.1,168.1 L84.9,167.8 L85.7,167.5 L86.6,167.2 L87.4,166.9 L88.3,166.6 L89.1,166.3 L89.9,166.0 L90.8,165.7 L91.6,165.4 L92.5,165.1 L93.3,164.8 L94.2,164.6 L95.0,164.3 L95.8,164.0 L96.7,163.7 L97.5,163.4 L98.4,163.1 L99.2,162.8 L100.1,162.5 L100.9,162.2 L101.8,162.0 L102.6,161.7 L103.5,161.4 L104.3,161.1 L105.1,160.8 L106.0,160.5 L106.8,160.2 L107.7,160.0 L108.5,159.7 L109.4,159.4 L110.2,159.1 L111.1,158.8 L111.9,158.5 L112.8,158.2 L113.6,158.0 L114.5,157.7 L115.3,157.4 L116.2,157.1 L117.0,156.8 L117.9,156.5 L118.7,156.2 L119.6,155.9 L120.4,155.7 L121.3,155.4 L122.1,155.1 L122.9,154.8 L123.8,154.5 L124.6,154.2 L125.5,153.9 L126.3,153.6 L127.2,153.3 L128.0,153.0 L128.9,152.7 L129.7,152.4 L130.6,152.2 L131.4,151.9 L132.3,151.6 L133.1,151.3 L133.9,151.0 L134.8,150.7 L135.6,150.4 L136.5,150.1 L137.3,149.8 L138.2,149.5 L139.0,149.2 L139.9,148.9 L140.7,148.6 L141.5,148.3 L142.4,147.9 L143.2,147.6 L144.1,147.3 L144.9,147.0 L145.7,146.7 L146.6,146.4 L147.4,146.1 L148.3,145.8 L149.1,145.5 L149.9,145.1 L150.8,144.8 L151.6,144.5 L152.4,144.2 L153.3,143.9 L154.1,143.5 L154.9,143.2 L155.8,142.9 L156.6,142.6 L157.4,142.2 L158.3,141.9 L159.1,141.6 L159.9,141.2 L160.7,140.9 L161.6,140.6 L162.4,140.2 L163.2,139.9 L164.0,139.5 L164.9,139.2 L165.7,138.9 L166.5,138.5 L167.3,138.2 L168.2,137.8 L169.0,137.5 L169.8,137.1 L170.6,136.8 L171.4,136.4 L172.3,136.0 L173.1,135.7 L173.9,135.3 L174.7,134.9 L175.5,134.6 L176.3,134.2 L177.1,133.8 L177.9,133.5 L178.7,133.1 L179.6,132.7 L180.4,132.3 L181.2,132.0 L182.0,131.6 L182.8,131.2 L183.6,130.8 L184.4,130.4 L185.2,130.0 L186.0,129.6 L186.8,129.2 L187.6,128.8 L188.4,128.4 L189.2,128.0 L189.9,127.6 L190.7,127.2 L191.5,126.8 L192.3,126.4 L193.1,125.9 L193.9,125.5 L194.7,125.1 L195.5,124.7 L196.2,124.2 L197.0,123.8 L197.8,123.4 L198.6,122.9 L199.3,122.5 L200.1,122.1 L200.9,121.6 L201.7,121.2 L202.4,120.7 L203.2,120.3 L204.0,119.8 L204.8,119.4 L205.5,118.9 L206.3,118.5 L207.1,118.0 L207.8,117.6 L208.6,117.1 L209.4,116.7 L210.2,116.2 L210.9,115.8 L211.7,115.3 L212.5,114.9 L213.2,114.4 L214.0,114.0 L214.8,113.6 L215.6,113.1 L216.3,112.7 L217.1,112.3 L217.9,111.8 L218.7,111.4 L219.5,111.0 L220.2,110.6 L221.0,110.1 L221.8,109.7 L222.6,109.3 L223.4,108.9 L224.2,108.5 L225.0,108.1 L225.8,107.7 L226.6,107.4 L227.4,107.0 L228.2,106.6 L229.0,106.2 L229.8,105.9 L230.6,105.5 L231.5,105.2 L232.3,104.8 L233.1,104.5 L233.9,104.1 L234.7,103.8 L235.6,103.4 L236.4,103.1 L237.2,102.8 L238.0,102.4 L238.9,102.1 L239.7,101.8 L240.5,101.5 L241.4,101.1 L242.2,100.8 L243.0,100.5 L243.9,100.2 L244.7,99.9 L245.5,99.6 L246.4,99.3 L247.2,99.0 L248.1,98.7 L248.9,98.4 L249.7,98.0 L250.6,97.7 L251.4,97.4 L252.3,97.1 L253.1,96.8 L253.9,96.5 L254.8,96.2 L255.6,95.9 L256.5,95.6 L257.3,95.3 L258.1,95.0 L259.0,94.7 L259.8,94.4 L260.7,94.1 L261.5,93.8 L262.4,93.5 L263.2,93.2 L264.0,92.9 L264.9,92.6 L265.7,92.3 L266.6,92.0 L267.4,91.7 L268.2,91.4 L269.1,91.1 L269.9,90.8 L270.8,90.5 L271.6,90.2 L272.5,89.9 L273.3,89.6 L274.2,89.3 L275.0,89.0 L275.8,88.7 L276.7,88.4 L277.5,88.1 L278.4,87.8 L279.2,87.5 L280.1,87.2 L280.9,86.9 L281.7,86.6 L282.6,86.3 L283.4,86.0 L284.3,85.7 L285.1,85.4 L286.0,85.1 L286.8,84.8 L287.6,84.5 L288.5,84.2 L289.3,83.9 L290.2,83.6 L291.0,83.3 L291.8,83.0 L292.7,82.7 L293.5,82.4 L294.4,82.1 L295.2,81.8 L296.0,81.5 L296.9,81.1 L297.7,80.8 L298.6,80.5 L299.4,80.2 L300.2,79.9 L301.1,79.6 L301.9,79.3 L302.8,79.0 L303.6,78.7 L304.4,78.4 L305.3,78.1 L306.1,77.8 L306.9,77.5 L307.8,77.2" stroke="#2f3366" stroke-width="2.1" fill="none" stroke-linecap="round" stroke-linejoin="round"/>
<path d="M77.3,184.0 L78.1,183.5 L78.9,182.9 L79.7,182.4 L80.5,181.9 L81.3,181.4 L82.0,180.9 L82.8,180.4 L83.6,179.9 L84.4,179.4 L85.2,178.9 L86.0,178.5 L86.8,178.0 L87.6,177.5 L88.4,177.0 L89.2,176.6 L90.0,176.1 L90.9,175.6 L91.7,175.2 L92.5,174.7 L93.3,174.3 L94.1,173.8 L94.9,173.4 L95.8,172.9 L96.6,172.5 L97.4,172.1 L98.2,171.6 L99.1,171.2 L99.9,170.8 L100.7,170.3 L101.5,169.9 L102.4,169.5 L103.2,169.1 L104.0,168.6 L104.9,168.2 L105.7,167.8 L106.5,167.4 L107.4,167.0 L108.2,166.6 L109.1,166.2 L109.9,165.8 L110.7,165.3 L111.6,164.9 L112.4,164.5 L113.3,164.1 L114.1,163.7 L115.0,163.3 L115.8,162.9 L116.7,162.5 L117.5,162.1 L118.3,161.7 L119.2,161.3 L120.0,161.0 L120.9,160.6 L121.7,160.2 L122.6,159.8 L123.4,159.4 L124.3,159.0 L125.1,158.6 L126.0,158.2 L126.8,157.8 L127.7,157.4 L128.5,157.0 L129.4,156.6 L130.2,156.2 L131.1,155.8 L131.9,155.4 L132.8,155.1 L133.6,154.7 L134.4,154.3 L135.3,153.9 L136.1,153.5 L137.0,153.1 L137.8,152.7 L138.7,152.3 L139.5,151.9 L140.4,151.5 L141.2,151.1 L142.0,150.7 L142.9,150.2 L143.7,149.8 L144.5,149.4 L145.4,149.0 L146.2,148.6 L147.1,148.2 L147.9,147.8 L148.7,147.4 L149.6,146.9 L150.4,146.5 L151.2,146.1 L152.0,145.7 L152.9,145.2 L153.7,144.8 L154.5,144.4 L155.3,143.9 L156.2,143.5 L157.0,143.0 L157.8,142.6 L158.6,142.2 L159.4,141.7 L160.2,141.3 L161.1,140.8 L161.9,140.3 L162.7,139.9 L163.5,139.4 L164.3,138.9 L165.1,138.5 L165.9,138.0 L166.7,137.5 L167.5,137.1 L168.3,136.6 L169.1,136.1 L169.9,135.6 L170.7,135.1 L171.5,134.7 L172.3,134.2 L173.1,133.7 L173.9,133.2 L174.7,132.7 L175.5,132.2 L176.3,131.7 L177.1,131.2 L177.8,130.8 L178.6,130.3 L179.4,129.8 L180.2,129.3 L181.0,128.8 L181.8,128.3 L182.6,127.8 L183.4,127.3 L184.2,126.8 L185.0,126.3 L185.8,125.8 L186.5,125.3 L187.3,124.8 L188.1,124.4 L188.9,123.9 L189.7,123.4 L190.5,122.9 L191.3,122.4 L192.1,121.9 L192.9,121.4 L193.7,121.0 L194.5,120.5 L195.3,120.0 L196.1,119.5 L196.9,119.1 L197.7,118.6 L198.5,118.1 L199.3,117.6 L200.1,117.2 L200.9,116.7 L201.7,116.3 L202.5,115.8 L203.4,115.3 L204.2,114.9 L205.0,114.4 L205.8,114.0 L206.6,113.5 L207.4,113.1 L208.2,112.6 L209.1,112.2 L209.9,111.7 L210.7,111.3 L211.5,110.9 L212.3,110.4 L213.2,110.0 L214.0,109.6 L214.8,109.1 L215.6,108.7 L216.5,108.3 L217.3,107.8 L218.1,107.4 L219.0,107.0 L219.8,106.6 L220.6,106.1 L221.4,105.7 L222.3,105.3 L223.1,104.9 L223.9,104.5 L224.8,104.1 L225.6,103.7 L226.5,103.2 L227.3,102.8 L228.1,102.4 L229.0,102.0 L229.8,101.6 L230.7,101.2 L231.5,100.8 L232.3,100.4 L233.2,100.0 L234.0,99.6 L234.9,99.2 L235.7,98.8 L236.6,98.4 L237.4,98.0 L238.2,97.6 L239.1,97.3 L239.9,96.9 L240.8,96.5 L241.6,96.1 L242.5,95.7 L243.3,95.3 L244.2,94.9 L245.0,94.6 L245.9,94.2 L246.7,93.8 L247.6,93.4 L248.4,93.0 L249.3,92.6 L250.1,92.3 L251.0,91.9 L251.8,91.5 L252.7,91.1 L253.5,90.7 L254.4,90.3 L255.2,90.0 L256.1,89.6 L257.0,89.2 L257.8,88.8 L258.7,88.4 L259.5,88.0 L260.4,87.6 L261.2,87.3 L262.1,86.9 L262.9,86.5 L263.7,86.1 L264.6,85.7 L265.4,85.3 L266.3,84.9 L267.1,84.5 L268.0,84.1 L268.8,83.7 L269.7,83.3 L270.5,82.9 L271.4,82.5 L272.2,82.1 L273.0,81.7 L273.9,81.3 L274.7,80.9 L275.6,80.5 L276.4,80.1 L277.2,79.7 L278.1,79.3 L278.9,78.9 L279.7,78.4 L280.6,78.0 L281.4,77.6 L282.2,77.2 L283.1,76.8 L283.9,76.3 L284.7,75.9 L285.6,75.5 L286.4,75.0 L287.2,74.6 L288.0,74.2 L288.9,73.7 L289.7,73.3 L290.5,72.8 L291.3,72.4 L292.2,72.0 L293.0,71.5 L293.8,71.1 L294.6,70.6 L295.4,70.2 L296.3,69.7 L297.1,69.3 L297.9,68.8 L298.7,68.4 L299.5,67.9 L300.4,67.5 L301.2,67.0 L302.0,66.6 L302.8,66.1 L303.6,65.7 L304.4,65.2 L305.3,64.8 L306.1,64.3 L306.9,63.9 L307.7,63.4" stroke="#7b9be0" stroke-width="1.8" fill="none" stroke-linecap="round" stroke-linejoin="round"/>
<path d="M77.4,184.6 L78.3,184.2 L79.1,183.8 L80.0,183.4 L80.8,183.0 L81.6,182.6 L82.5,182.2 L83.3,181.8 L84.2,181.4 L85.0,181.0 L85.8,180.6 L86.7,180.2 L87.5,179.8 L88.4,179.4 L89.2,179.0 L90.0,178.6 L90.9,178.2 L91.7,177.8 L92.6,177.3 L93.4,176.9 L94.2,176.5 L95.1,176.1 L95.9,175.7 L96.8,175.3 L97.6,174.9 L98.4,174.5 L99.3,174.1 L100.1,173.7 L100.9,173.3 L101.8,172.8 L102.6,172.4 L103.5,172.0 L104.3,171.6 L105.1,171.2 L106.0,170.8 L106.8,170.4 L107.6,170.0 L108.5,169.6 L109.3,169.2 L110.2,168.7 L111.0,168.3 L111.8,167.9 L112.7,167.5 L113.5,167.1 L114.4,166.7 L115.2,166.3 L116.0,165.9 L116.9,165.5 L117.7,165.1 L118.6,164.7 L119.4,164.3 L120.3,163.9 L121.1,163.5 L122.0,163.1 L122.8,162.7 L123.6,162.3 L124.5,161.9 L125.3,161.5 L126.2,161.1 L127.0,160.7 L127.9,160.3 L128.7,159.9 L129.6,159.5 L130.4,159.2 L131.3,158.8 L132.1,158.4 L133.0,158.0 L133.8,157.6 L134.7,157.2 L135.5,156.8 L136.4,156.4 L137.2,156.0 L138.1,155.6 L138.9,155.2 L139.7,154.9 L140.6,154.5 L141.4,154.1 L142.3,153.7 L143.1,153.3 L144.0,152.9 L144.8,152.5 L145.7,152.1 L146.5,151.7 L147.4,151.3 L148.2,150.9 L149.0,150.5 L149.9,150.1 L150.7,149.7 L151.6,149.3 L152.4,148.9 L153.2,148.5 L154.1,148.1 L154.9,147.7 L155.8,147.2 L156.6,146.8 L157.4,146.4 L158.3,146.0 L159.1,145.6 L159.9,145.2 L160.8,144.7 L161.6,144.3 L162.4,143.9 L163.2,143.4 L164.1,143.0 L164.9,142.6 L165.7,142.1 L166.5,141.7 L167.4,141.3 L168.2,140.8 L169.0,140.4 L169.8,139.9 L170.6,139.5 L171.5,139.0 L172.3,138.6 L173.1,138.1 L173.9,137.7 L174.7,137.2 L175.5,136.8 L176.3,136.3 L177.2,135.9 L178.0,135.4 L178.8,134.9 L179.6,134.5 L180.4,134.0 L181.2,133.5 L182.0,133.1 L182.8,132.6 L183.6,132.1 L184.4,131.7 L185.2,131.2 L186.0,130.7 L186.8,130.3 L187.7,129.8 L188.5,129.3 L189.3,128.8 L190.1,128.4 L190.9,127.9 L191.7,127.4 L192.5,126.9 L193.3,126.5 L194.1,126.0 L194.9,125.5 L195.7,125.0 L196.5,124.5 L197.3,124.1 L198.1,123.6 L198.9,123.1 L199.7,122.6 L200.5,122.1 L201.2,121.7 L202.0,121.2 L202.8,120.7 L203.6,120.2 L204.4,119.7 L205.2,119.2 L206.0,118.8 L206.8,118.3 L207.6,117.8 L208.4,117.3 L209.2,116.8 L210.0,116.3 L210.8,115.9 L211.6,115.4 L212.4,114.9 L213.2,114.4 L214.0,114.0 L214.8,113.5 L215.6,113.0 L216.4,112.5 L217.2,112.1 L218.0,111.6 L218.8,111.1 L219.6,110.6 L220.4,110.2 L221.2,109.7 L222.0,109.2 L222.9,108.8 L223.7,108.3 L224.5,107.9 L225.3,107.4 L226.1,106.9 L226.9,106.5 L227.7,106.0 L228.5,105.6 L229.3,105.1 L230.2,104.7 L231.0,104.2 L231.8,103.8 L232.6,103.4 L233.4,102.9 L234.3,102.5 L235.1,102.1 L235.9,101.6 L236.7,101.2 L237.6,100.8 L238.4,100.3 L239.2,99.9 L240.1,99.5 L240.9,99.1 L241.7,98.7 L242.6,98.3 L243.4,97.8 L244.2,97.4 L245.1,97.0 L245.9,96.6 L246.8,96.2 L247.6,95.8 L248.4,95.4 L249.3,95.0 L250.1,94.6 L251.0,94.2 L251.8,93.8 L252.7,93.4 L253.5,93.0 L254.4,92.6 L255.2,92.2 L256.1,91.8 L256.9,91.4 L257.7,91.0 L258.6,90.6 L259.4,90.2 L260.3,89.8 L261.1,89.5 L262.0,89.1 L262.8,88.7 L263.7,88.3 L264.5,87.9 L265.4,87.5 L266.2,87.1 L267.1,86.7 L267.9,86.3 L268.7,85.9 L269.6,85.5 L270.4,85.1 L271.3,84.7 L272.1,84.3 L273.0,83.9 L273.8,83.5 L274.6,83.1 L275.5,82.6 L276.3,82.2 L277.2,81.8 L278.0,81.4 L278.8,81.0 L279.7,80.6 L280.5,80.1 L281.3,79.7 L282.2,79.3 L283.0,78.9 L283.8,78.4 L284.6,78.0 L285.5,77.6 L286.3,77.1 L287.1,76.7 L287.9,76.3 L288.8,75.8 L289.6,75.4 L290.4,74.9 L291.2,74.4 L292.0,74.0 L292.8,73.5 L293.6,73.1 L294.4,72.6 L295.2,72.1 L296.0,71.6 L296.8,71.2 L297.6,70.7 L298.4,70.2 L299.2,69.7 L300.0,69.2 L300.8,68.7 L301.6,68.2 L302.4,67.7 L303.2,67.2 L303.9,66.7 L304.7,66.1 L305.5,65.6 L306.3,65.1 L307.0,64.5 L307.8,64.0" stroke="#7b9be0" stroke-width="1.8" fill="none" stroke-linecap="round" stroke-linejoin="round"/>
<path d="M77.3,223.0 L78.4,222.6 L79.5,222.3 L80.6,222.0 L81.7,221.6 L82.8,221.3 L83.9,221.0 L85.0,220.6 L86.1,220.3 L87.2,219.9 L88.3,219.6 L89.3,219.3 L90.4,218.9 L91.5,218.6 L92.6,218.2 L93.7,217.9 L94.8,217.5 L95.9,217.1 L97.0,216.8 L98.1,216.4 L99.2,216.1 L100.3,215.7 L101.4,215.3 L102.5,214.9 L103.5,214.5 L104.6,214.2 L105.7,213.8 L106.8,213.4 L107.9,213.0 L108.9,212.6 L110.0,212.1 L111.1,211.7 L112.2,211.3 L113.2,210.9 L114.3,210.4 L115.4,210.0 L116.4,209.5 L117.5,209.1 L118.5,208.6 L119.6,208.1 L120.6,207.7 L121.7,207.2 L122.7,206.7 L123.7,206.2 L124.8,205.7 L125.8,205.2 L126.8,204.6 L127.8,204.1 L128.8,203.6 L129.8,203.0 L130.8,202.4 L131.8,201.9 L132.8,201.3 L133.8,200.7 L134.8,200.1 L135.8,199.5 L136.7,198.9 L137.7,198.2 L138.7,197.6 L139.6,196.9 L140.6,196.3 L141.5,195.6 L142.4,194.9 L143.3,194.2 L144.2,193.4 L145.1,192.7 L145.9,191.9 L146.7,191.2 L147.6,190.4 L148.4,189.6 L149.1,188.7 L149.9,187.9 L150.6,187.0 L151.3,186.1 L152.0,185.2 L152.6,184.3 L153.3,183.4 L153.9,182.4 L154.5,181.4 L155.1,180.4 L155.7,179.5 L156.2,178.4 L156.8,177.4 L157.3,176.4 L157.8,175.4 L158.4,174.3 L158.9,173.3 L159.4,172.3 L159.9,171.2 L160.4,170.2 L161.0,169.1 L161.5,168.1 L162.0,167.1 L162.5,166.0 L163.1,165.0 L163.6,164.0 L164.2,163.0 L164.8,162.0 L165.4,161.0 L166.0,160.0 L166.6,159.0 L167.3,158.1 L167.9,157.2 L168.6,156.2 L169.4,155.4 L170.1,154.5 L170.9,153.6 L171.7,152.8 L172.5,152.0 L173.3,151.1 L174.2,150.3 L175.0,149.6 L175.9,148.8 L176.7,148.0 L177.6,147.2 L178.4,146.4 L179.2,145.5 L179.9,144.7 L180.7,143.9 L181.4,143.0 L182.0,142.1 L182.7,141.1 L183.2,140.2 L183.8,139.2 L184.3,138.2 L184.7,137.1 L185.2,136.1 L185.6,135.0 L186.0,133.9 L186.4,132.8 L186.7,131.7 L187.1,130.6 L187.4,129.5 L187.8,128.4 L188.1,127.3 L188.5,126.2 L188.8,125.1 L189.2,124.0 L189.6,122.9 L190.0,121.8 L190.4,120.7 L190.8,119.6 L191.2,118.6 L191.7,117.5 L192.2,116.5 L192.6,115.5 L193.1,114.4 L193.6,113.4 L194.1,112.4 L194.7,111.4 L195.2,110.4 L195.7,109.4 L196.3,108.4 L196.9,107.4 L197.4,106.5 L198.0,105.5 L198.6,104.5 L199.2,103.5 L199.8,102.6 L200.4,101.6 L201.0,100.7 L201.6,99.7 L202.3,98.7 L202.9,97.8 L203.5,96.8 L204.2,95.9 L204.8,94.9 L205.4,94.0 L206.1,93.0 L206.7,92.1 L207.4,91.1 L208.0,90.2 L208.7,89.2 L209.3,88.3 L210.0,87.3 L210.6,86.4 L211.3,85.4 L211.9,84.5 L212.5,83.5 L213.2,82.5 L213.8,81.6 L214.5,80.6 L215.1,79.6 L215.7,78.6 L216.4,77.7 L217.0,76.7 L217.7,75.7 L218.3,74.8 L219.0,73.8 L219.6,72.9 L220.3,71.9 L220.9,71.0 L221.6,70.0 L222.3,69.1 L223.0,68.2 L223.7,67.2 L224.4,66.3 L225.1,65.4 L225.8,64.6 L226.5,63.7 L227.3,62.8 L228.0,62.0 L228.8,61.1 L229.5,60.3 L230.3,59.5 L231.1,58.7 L232.0,58.0 L232.8,57.2 L233.6,56.4 L234.5,55.7 L235.3,55.0 L236.2,54.3 L237.1,53.6 L238.0,52.9 L238.9,52.2 L239.8,51.6 L240.7,50.9 L241.7,50.3 L242.6,49.7 L243.6,49.0 L244.5,48.4 L245.5,47.8 L246.5,47.3 L247.5,46.7 L248.5,46.1 L249.5,45.6 L250.5,45.0 L251.5,44.5 L252.5,44.0 L253.6,43.5 L254.6,43.0 L255.6,42.5 L256.7,42.0 L257.8,41.5 L258.8,41.0 L259.9,40.6 L260.9,40.1 L262.0,39.7 L263.1,39.2 L264.2,38.8 L265.3,38.3 L266.4,37.9 L267.4,37.5 L268.5,37.1 L269.6,36.7 L270.7,36.3 L271.8,35.9 L272.9,35.5 L274.0,35.1 L275.2,34.7 L276.3,34.3 L277.4,33.9 L278.5,33.6 L279.6,33.2 L280.7,32.8 L281.8,32.5 L282.9,32.1 L284.0,31.7 L285.1,31.4 L286.2,31.0 L287.3,30.7 L288.4,30.3 L289.5,30.0 L290.6,29.6 L291.7,29.3 L292.8,28.9 L293.9,28.6 L295.0,28.2 L296.1,27.9 L297.1,27.5 L298.2,27.2 L299.3,26.8 L300.3,26.5 L301.4,26.1 L302.4,25.8 L303.5,25.4 L304.5,25.0 L305.6,24.7 L306.6,24.3 L307.6,23.9" stroke="#6c1d2a" stroke-width="2.0" fill="none" stroke-linecap="round" stroke-linejoin="round"/>
<path d="M77.5,223.2 L78.5,222.9 L79.6,222.5 L80.6,222.2 L81.6,221.8 L82.7,221.5 L83.7,221.1 L84.8,220.8 L85.9,220.4 L86.9,220.1 L88.0,219.8 L89.1,219.4 L90.2,219.1 L91.2,218.7 L92.3,218.4 L93.4,218.0 L94.5,217.7 L95.6,217.4 L96.7,217.0 L97.8,216.7 L98.9,216.3 L100.0,216.0 L101.1,215.6 L102.2,215.3 L103.4,214.9 L104.5,214.5 L105.6,214.2 L106.7,213.8 L107.8,213.4 L108.9,213.1 L110.0,212.7 L111.1,212.3 L112.2,211.9 L113.3,211.5 L114.4,211.1 L115.5,210.8 L116.6,210.3 L117.7,209.9 L118.8,209.5 L119.9,209.1 L121.0,208.7 L122.1,208.3 L123.2,207.8 L124.3,207.4 L125.3,206.9 L126.4,206.5 L127.5,206.0 L128.5,205.5 L129.6,205.0 L130.7,204.6 L131.7,204.1 L132.7,203.6 L133.8,203.0 L134.8,202.5 L135.8,202.0 L136.8,201.5 L137.8,200.9 L138.8,200.3 L139.8,199.8 L140.8,199.2 L141.8,198.6 L142.8,198.0 L143.7,197.4 L144.7,196.8 L145.6,196.2 L146.5,195.5 L147.4,194.9 L148.4,194.2 L149.3,193.5 L150.2,192.8 L151.0,192.1 L151.9,191.4 L152.8,190.7 L153.6,189.9 L154.4,189.2 L155.3,188.4 L156.1,187.6 L156.9,186.9 L157.7,186.0 L158.4,185.2 L159.2,184.4 L159.9,183.5 L160.7,182.7 L161.4,181.8 L162.1,180.9 L162.8,180.0 L163.5,179.1 L164.2,178.2 L164.9,177.3 L165.6,176.4 L166.3,175.4 L166.9,174.5 L167.6,173.6 L168.3,172.6 L168.9,171.6 L169.5,170.7 L170.2,169.7 L170.8,168.7 L171.5,167.8 L172.1,166.8 L172.7,165.8 L173.4,164.8 L174.0,163.9 L174.6,162.9 L175.3,161.9 L175.9,160.9 L176.6,160.0 L177.2,159.0 L177.9,158.0 L178.5,157.1 L179.2,156.1 L179.8,155.1 L180.5,154.2 L181.1,153.2 L181.8,152.3 L182.5,151.4 L183.1,150.4 L183.8,149.5 L184.5,148.6 L185.1,147.6 L185.8,146.7 L186.5,145.8 L187.1,144.8 L187.8,143.9 L188.4,142.9 L189.0,142.0 L189.6,141.0 L190.3,140.1 L190.9,139.1 L191.4,138.2 L192.0,137.2 L192.6,136.2 L193.1,135.2 L193.7,134.2 L194.2,133.2 L194.7,132.2 L195.2,131.2 L195.6,130.1 L196.1,129.1 L196.5,128.0 L196.9,126.9 L197.2,125.9 L197.6,124.8 L197.9,123.6 L198.2,122.5 L198.5,121.4 L198.8,120.2 L199.0,119.1 L199.3,117.9 L199.6,116.8 L199.9,115.6 L200.2,114.5 L200.6,113.4 L200.9,112.3 L201.4,111.3 L201.8,110.3 L202.4,109.3 L202.9,108.3 L203.5,107.3 L204.1,106.4 L204.8,105.5 L205.5,104.6 L206.3,103.7 L207.0,102.9 L207.8,102.1 L208.7,101.2 L209.5,100.4 L210.3,99.6 L211.1,98.8 L211.9,97.9 L212.7,97.1 L213.5,96.3 L214.2,95.4 L214.9,94.5 L215.6,93.6 L216.3,92.7 L217.0,91.8 L217.6,90.9 L218.3,90.0 L218.9,89.0 L219.5,88.1 L220.1,87.1 L220.7,86.1 L221.3,85.1 L221.9,84.1 L222.4,83.1 L223.0,82.1 L223.5,81.1 L224.1,80.1 L224.7,79.1 L225.2,78.0 L225.8,77.0 L226.3,76.0 L226.9,75.0 L227.4,73.9 L228.0,72.9 L228.5,71.9 L229.1,70.9 L229.7,69.8 L230.3,68.8 L230.9,67.8 L231.5,66.9 L232.1,65.9 L232.7,64.9 L233.4,64.0 L234.0,63.0 L234.7,62.1 L235.3,61.2 L236.0,60.3 L236.8,59.4 L237.5,58.5 L238.2,57.7 L239.0,56.9 L239.8,56.1 L240.6,55.3 L241.4,54.5 L242.2,53.7 L243.0,53.0 L243.9,52.2 L244.8,51.5 L245.6,50.8 L246.5,50.1 L247.4,49.4 L248.4,48.8 L249.3,48.1 L250.2,47.5 L251.2,46.9 L252.1,46.2 L253.1,45.6 L254.1,45.1 L255.1,44.5 L256.1,43.9 L257.1,43.4 L258.1,42.8 L259.1,42.3 L260.2,41.8 L261.2,41.2 L262.2,40.7 L263.3,40.2 L264.4,39.7 L265.4,39.3 L266.5,38.8 L267.6,38.3 L268.6,37.9 L269.7,37.4 L270.8,37.0 L271.9,36.6 L273.0,36.1 L274.1,35.7 L275.2,35.3 L276.3,34.9 L277.4,34.5 L278.5,34.1 L279.6,33.7 L280.7,33.3 L281.9,32.9 L283.0,32.5 L284.1,32.2 L285.2,31.8 L286.3,31.4 L287.4,31.0 L288.5,30.7 L289.6,30.3 L290.7,29.9 L291.8,29.6 L292.9,29.2 L294.0,28.9 L295.1,28.5 L296.1,28.2 L297.2,27.8 L298.3,27.4 L299.4,27.1 L300.4,26.7 L301.5,26.4 L302.5,26.0 L303.6,25.6 L304.6,25.3 L305.6,24.9 L306.6,24.5 L307.6,24.2" stroke="#6c1d2a" stroke-width="2.0" fill="none" stroke-linecap="round" stroke-linejoin="round"/>
<path d="M77.4,227.1 L78.5,226.7 L79.7,226.4 L80.8,226.1 L82.0,225.8 L83.2,225.4 L84.3,225.1 L85.5,224.8 L86.6,224.5 L87.8,224.1 L89.0,223.8 L90.1,223.5 L91.3,223.1 L92.5,222.8 L93.6,222.5 L94.8,222.1 L96.0,221.8 L97.1,221.5 L98.3,221.1 L99.5,220.8 L100.6,220.4 L101.8,220.1 L103.0,219.7 L104.1,219.3 L105.3,219.0 L106.5,218.6 L107.6,218.2 L108.8,217.9 L110.0,217.5 L111.1,217.1 L112.3,216.7 L113.5,216.3 L114.6,215.9 L115.8,215.5 L116.9,215.1 L118.1,214.7 L119.2,214.3 L120.4,213.8 L121.5,213.4 L122.7,213.0 L123.8,212.5 L124.9,212.1 L126.1,211.6 L127.2,211.2 L128.3,210.7 L129.5,210.2 L130.6,209.8 L131.7,209.3 L132.8,208.8 L134.0,208.3 L135.1,207.8 L136.2,207.3 L137.3,206.7 L138.4,206.2 L139.5,205.7 L140.6,205.1 L141.6,204.6 L142.7,204.0 L143.8,203.4 L144.9,202.9 L145.9,202.3 L147.0,201.7 L148.1,201.1 L149.1,200.4 L150.2,199.8 L151.2,199.2 L152.3,198.5 L153.3,197.9 L154.3,197.2 L155.3,196.6 L156.3,195.9 L157.3,195.2 L158.3,194.5 L159.3,193.7 L160.3,193.0 L161.2,192.2 L162.1,191.5 L163.0,190.7 L163.9,189.9 L164.8,189.0 L165.6,188.2 L166.5,187.3 L167.2,186.5 L168.0,185.6 L168.8,184.6 L169.5,183.7 L170.2,182.7 L170.8,181.7 L171.4,180.7 L172.0,179.7 L172.6,178.6 L173.2,177.6 L173.7,176.5 L174.2,175.4 L174.7,174.3 L175.1,173.1 L175.6,172.0 L176.0,170.8 L176.4,169.7 L176.8,168.5 L177.2,167.3 L177.6,166.1 L177.9,164.9 L178.3,163.7 L178.6,162.5 L179.0,161.3 L179.3,160.1 L179.6,158.9 L180.0,157.7 L180.3,156.5 L180.7,155.3 L181.0,154.2 L181.3,153.0 L181.7,151.8 L182.0,150.6 L182.4,149.5 L182.7,148.3 L183.1,147.1 L183.4,146.0 L183.8,144.8 L184.1,143.7 L184.5,142.5 L184.9,141.4 L185.2,140.2 L185.6,139.1 L185.9,137.9 L186.3,136.8 L186.6,135.6 L186.9,134.5 L187.3,133.3 L187.6,132.2 L187.9,131.0 L188.3,129.9 L188.6,128.7 L188.9,127.5 L189.2,126.4 L189.5,125.2 L189.8,124.0 L190.1,122.9 L190.4,121.7 L190.6,120.5 L190.9,119.3 L191.2,118.1 L191.4,116.9 L191.7,115.7 L192.0,114.5 L192.2,113.3 L192.5,112.1 L192.7,110.9 L193.0,109.7 L193.2,108.5 L193.5,107.3 L193.7,106.1 L194.0,104.9 L194.2,103.7 L194.5,102.5 L194.7,101.3 L195.0,100.1 L195.3,98.9 L195.5,97.7 L195.8,96.5 L196.1,95.3 L196.4,94.1 L196.7,92.9 L197.0,91.7 L197.3,90.5 L197.6,89.3 L197.9,88.1 L198.3,87.0 L198.6,85.8 L199.0,84.6 L199.4,83.5 L199.8,82.3 L200.2,81.2 L200.6,80.0 L201.0,78.9 L201.4,77.7 L201.9,76.6 L202.3,75.5 L202.8,74.4 L203.3,73.3 L203.9,72.2 L204.4,71.1 L205.0,70.0 L205.5,69.0 L206.1,67.9 L206.8,66.9 L207.4,65.9 L208.1,65.0 L208.9,64.0 L209.6,63.1 L210.4,62.2 L211.2,61.3 L212.0,60.4 L212.9,59.6 L213.7,58.8 L214.6,58.0 L215.5,57.2 L216.5,56.5 L217.4,55.8 L218.4,55.1 L219.4,54.4 L220.4,53.7 L221.4,53.0 L222.4,52.4 L223.4,51.8 L224.5,51.2 L225.5,50.6 L226.6,50.0 L227.7,49.4 L228.8,48.9 L229.9,48.3 L231.0,47.8 L232.1,47.3 L233.2,46.7 L234.4,46.2 L235.5,45.7 L236.6,45.2 L237.8,44.7 L238.9,44.3 L240.1,43.8 L241.2,43.3 L242.3,42.8 L243.5,42.3 L244.6,41.8 L245.8,41.4 L246.9,40.9 L248.0,40.4 L249.2,39.9 L250.3,39.4 L251.4,39.0 L252.5,38.5 L253.7,38.0 L254.8,37.5 L255.9,37.1 L257.0,36.6 L258.1,36.1 L259.3,35.6 L260.4,35.2 L261.5,34.7 L262.6,34.2 L263.7,33.8 L264.8,33.3 L266.0,32.8 L267.1,32.4 L268.2,31.9 L269.3,31.5 L270.4,31.0 L271.6,30.6 L272.7,30.2 L273.8,29.7 L274.9,29.3 L276.1,28.9 L277.2,28.5 L278.3,28.1 L279.4,27.7 L280.6,27.3 L281.7,26.9 L282.9,26.5 L284.0,26.1 L285.2,25.7 L286.3,25.4 L287.5,25.0 L288.6,24.7 L289.8,24.3 L291.0,24.0 L292.1,23.7 L293.3,23.3 L294.5,23.0 L295.7,22.7 L296.9,22.4 L298.1,22.2 L299.3,21.9 L300.5,21.6 L301.7,21.4 L302.9,21.1 L304.1,20.9 L305.4,20.7 L306.6,20.4 L307.9,20.2" stroke="#4c4f55" stroke-width="1.8" fill="none" stroke-linecap="round" stroke-linejoin="round"/>
<path d="M77.3,227.2 L78.5,226.9 L79.7,226.6 L80.9,226.4 L82.1,226.1 L83.3,225.8 L84.5,225.5 L85.7,225.2 L86.9,224.9 L88.1,224.6 L89.2,224.3 L90.4,224.0 L91.6,223.7 L92.8,223.4 L93.9,223.0 L95.1,222.7 L96.3,222.4 L97.4,222.0 L98.6,221.7 L99.8,221.3 L100.9,221.0 L102.1,220.6 L103.2,220.3 L104.4,219.9 L105.6,219.5 L106.7,219.2 L107.9,218.8 L109.0,218.4 L110.1,218.0 L111.3,217.6 L112.4,217.2 L113.6,216.8 L114.7,216.4 L115.9,216.0 L117.0,215.6 L118.1,215.2 L119.3,214.7 L120.4,214.3 L121.5,213.9 L122.7,213.5 L123.8,213.0 L124.9,212.6 L126.1,212.1 L127.2,211.7 L128.3,211.2 L129.5,210.8 L130.6,210.3 L131.7,209.9 L132.8,209.4 L134.0,208.9 L135.1,208.4 L136.2,208.0 L137.3,207.5 L138.5,207.0 L139.6,206.5 L140.7,206.0 L141.8,205.5 L143.0,205.0 L144.1,204.5 L145.2,204.0 L146.3,203.5 L147.5,203.0 L148.6,202.5 L149.7,202.0 L150.8,201.5 L152.0,201.0 L153.1,200.4 L154.2,199.9 L155.3,199.4 L156.5,198.8 L157.6,198.3 L158.7,197.8 L159.8,197.2 L160.9,196.6 L162.0,196.0 L163.0,195.4 L164.1,194.8 L165.1,194.2 L166.2,193.6 L167.2,192.9 L168.2,192.2 L169.2,191.6 L170.1,190.8 L171.1,190.1 L172.0,189.4 L172.9,188.6 L173.7,187.8 L174.6,187.0 L175.4,186.1 L176.2,185.3 L176.9,184.4 L177.7,183.4 L178.4,182.5 L179.0,181.5 L179.7,180.5 L180.3,179.5 L181.0,178.5 L181.5,177.5 L182.1,176.4 L182.7,175.4 L183.2,174.3 L183.7,173.2 L184.2,172.1 L184.7,171.0 L185.2,169.8 L185.6,168.7 L186.1,167.6 L186.5,166.4 L186.9,165.3 L187.3,164.1 L187.7,162.9 L188.1,161.8 L188.5,160.6 L188.9,159.4 L189.2,158.3 L189.6,157.1 L189.9,155.9 L190.3,154.7 L190.6,153.6 L190.9,152.4 L191.2,151.2 L191.5,150.0 L191.8,148.8 L192.1,147.7 L192.4,146.5 L192.7,145.3 L193.0,144.1 L193.3,142.9 L193.6,141.7 L193.8,140.5 L194.1,139.3 L194.4,138.1 L194.6,136.9 L194.9,135.7 L195.2,134.5 L195.4,133.3 L195.7,132.2 L195.9,131.0 L196.2,129.8 L196.4,128.6 L196.7,127.4 L197.0,126.2 L197.2,125.0 L197.5,123.8 L197.7,122.6 L198.0,121.4 L198.3,120.2 L198.5,119.0 L198.8,117.8 L199.1,116.7 L199.3,115.5 L199.6,114.3 L199.9,113.1 L200.2,111.9 L200.5,110.7 L200.8,109.6 L201.1,108.4 L201.4,107.2 L201.7,106.0 L202.0,104.8 L202.3,103.7 L202.6,102.5 L203.0,101.3 L203.3,100.2 L203.6,99.0 L203.9,97.8 L204.3,96.6 L204.6,95.5 L205.0,94.3 L205.3,93.1 L205.7,92.0 L206.1,90.8 L206.4,89.6 L206.8,88.5 L207.2,87.3 L207.6,86.1 L208.0,85.0 L208.4,83.8 L208.8,82.7 L209.2,81.5 L209.6,80.3 L210.0,79.2 L210.4,78.0 L210.9,76.9 L211.3,75.7 L211.8,74.6 L212.3,73.5 L212.8,72.4 L213.3,71.3 L213.8,70.2 L214.4,69.1 L214.9,68.0 L215.5,67.0 L216.1,65.9 L216.7,64.9 L217.3,63.9 L218.0,62.9 L218.7,61.9 L219.4,61.0 L220.1,60.1 L220.9,59.2 L221.7,58.3 L222.5,57.4 L223.3,56.6 L224.2,55.8 L225.1,55.0 L226.0,54.2 L226.9,53.5 L227.8,52.7 L228.8,52.0 L229.8,51.3 L230.8,50.6 L231.8,49.9 L232.8,49.2 L233.8,48.6 L234.9,48.0 L235.9,47.3 L237.0,46.7 L238.1,46.1 L239.2,45.5 L240.3,45.0 L241.4,44.4 L242.5,43.8 L243.6,43.3 L244.7,42.7 L245.8,42.2 L246.9,41.6 L248.0,41.1 L249.1,40.6 L250.3,40.0 L251.4,39.5 L252.5,39.0 L253.6,38.5 L254.7,38.0 L255.9,37.5 L257.0,37.0 L258.1,36.6 L259.2,36.1 L260.4,35.6 L261.5,35.1 L262.6,34.7 L263.8,34.2 L264.9,33.8 L266.0,33.3 L267.2,32.9 L268.3,32.4 L269.4,32.0 L270.6,31.6 L271.7,31.2 L272.9,30.7 L274.0,30.3 L275.2,29.9 L276.3,29.5 L277.5,29.1 L278.6,28.7 L279.8,28.4 L280.9,28.0 L282.1,27.6 L283.2,27.2 L284.4,26.8 L285.5,26.5 L286.7,26.1 L287.8,25.8 L289.0,25.4 L290.2,25.1 L291.3,24.7 L292.5,24.4 L293.7,24.0 L294.8,23.7 L296.0,23.4 L297.2,23.1 L298.3,22.7 L299.5,22.4 L300.7,22.1 L301.9,21.8 L303.0,21.5 L304.2,21.2 L305.4,20.9 L306.6,20.6 L307.7,20.3" stroke="#4c4f55" stroke-width="1.8" fill="none" stroke-linecap="round" stroke-linejoin="round"/>
<path d="M77.4,229.9 L78.6,229.6 L79.7,229.3 L80.9,228.9 L82.1,228.6 L83.2,228.3 L84.4,228.0 L85.6,227.7 L86.7,227.4 L87.9,227.1 L89.1,226.8 L90.2,226.5 L91.4,226.2 L92.6,225.9 L93.7,225.6 L94.9,225.3 L96.1,225.0 L97.2,224.7 L98.4,224.3 L99.6,224.0 L100.7,223.7 L101.9,223.4 L103.0,223.1 L104.2,222.8 L105.4,222.5 L106.5,222.1 L107.7,221.8 L108.8,221.5 L110.0,221.1 L111.1,220.8 L112.3,220.5 L113.5,220.1 L114.6,219.8 L115.8,219.4 L116.9,219.0 L118.0,218.7 L119.2,218.3 L120.3,217.9 L121.5,217.5 L122.6,217.1 L123.8,216.7 L124.9,216.3 L126.0,215.9 L127.2,215.5 L128.3,215.0 L129.4,214.6 L130.6,214.2 L131.7,213.7 L132.8,213.3 L133.9,212.8 L135.0,212.4 L136.2,211.9 L137.3,211.4 L138.4,211.0 L139.5,210.5 L140.6,210.0 L141.7,209.6 L142.8,209.1 L143.9,208.6 L145.0,208.1 L146.1,207.6 L147.2,207.1 L148.3,206.6 L149.4,206.2 L150.5,205.7 L151.6,205.2 L152.7,204.7 L153.8,204.2 L154.8,203.7 L155.9,203.2 L157.0,202.7 L158.1,202.2 L159.2,201.6 L160.3,201.1 L161.3,200.6 L162.4,200.1 L163.5,199.6 L164.6,199.1 L165.7,198.5 L166.8,198.0 L167.9,197.5 L169.0,197.0 L170.1,196.4 L171.2,195.9 L172.4,195.4 L173.5,194.8 L174.6,194.3 L175.7,193.7 L176.8,193.1 L177.8,192.5 L178.9,191.9 L179.8,191.2 L180.8,190.5 L181.6,189.7 L182.4,188.9 L183.2,188.0 L183.8,187.1 L184.4,186.1 L184.9,185.1 L185.3,184.0 L185.7,182.9 L186.0,181.8 L186.3,180.6 L186.6,179.4 L186.8,178.2 L187.0,177.0 L187.2,175.8 L187.3,174.6 L187.5,173.4 L187.6,172.2 L187.8,171.0 L187.9,169.8 L188.0,168.6 L188.1,167.3 L188.2,166.1 L188.3,164.9 L188.4,163.7 L188.4,162.5 L188.5,161.3 L188.6,160.1 L188.7,158.9 L188.8,157.7 L188.9,156.5 L188.9,155.3 L189.0,154.0 L189.1,152.8 L189.2,151.6 L189.3,150.4 L189.4,149.2 L189.5,148.0 L189.5,146.8 L189.6,145.6 L189.7,144.4 L189.8,143.2 L189.9,142.0 L190.0,140.8 L190.1,139.6 L190.2,138.4 L190.2,137.2 L190.3,136.0 L190.4,134.8 L190.5,133.6 L190.6,132.4 L190.6,131.2 L190.7,130.0 L190.8,128.8 L190.9,127.6 L190.9,126.4 L191.0,125.2 L191.1,124.0" stroke="#000000" stroke-width="1.7" fill="none" stroke-linecap="round" stroke-linejoin="round"/>
<path d="M191.1,124.0 L191.1,122.8 L191.2,121.6 L191.2,120.3 L191.3,119.1 L191.4,117.8 L191.4,116.6 L191.4,115.3 L191.5,114.1 L191.5,112.8 L191.6,111.6 L191.6,110.3 L191.6,109.1 L191.6,107.8 L191.6,106.6 L191.6,105.3 L191.7,104.1 L191.7,102.8 L191.6,101.6 L191.6,100.3 L191.6,99.0 L191.6,97.8 L191.6,96.5 L191.6,95.3 L191.5,94.0 L191.5,92.7 L191.5,91.5 L191.5,90.2 L191.4,89.0 L191.4,87.7 L191.4,86.4 L191.4,85.2 L191.4,83.9 L191.5,82.7 L191.5,81.4 L191.6,80.2 L191.6,78.9 L191.7,77.6 L191.8,76.4 L191.9,75.1 L192.1,73.9 L192.2,72.7 L192.4,71.4 L192.6,70.2 L192.8,68.9 L193.1,67.7 L193.4,66.5 L193.7,65.3 L194.1,64.1 L194.5,62.9 L194.9,61.8 L195.5,60.7 L196.0,59.7 L196.7,58.7 L197.4,57.7 L198.1,56.9 L198.9,56.0 L199.8,55.3 L200.7,54.5 L201.7,53.8 L202.7,53.2 L203.7,52.5 L204.8,51.9 L205.9,51.4 L207.1,50.8 L208.2,50.3 L209.4,49.8 L210.6,49.3 L211.8,48.8 L213.0,48.3 L214.2,47.9 L215.4,47.4 L216.6,46.9 L217.8,46.5 L219.0,46.0 L220.2,45.5 L221.4,45.1 L222.6,44.6 L223.8,44.1 L225.0,43.7 L226.2,43.2 L227.4,42.7 L228.5,42.3 L229.7,41.8 L230.9,41.3 L232.1,40.9 L233.2,40.4 L234.4,40.0 L235.6,39.5 L236.7,39.0 L237.9,38.6 L239.1,38.1 L240.2,37.7 L241.4,37.2 L242.5,36.7 L243.7,36.3 L244.9,35.8 L246.0,35.4 L247.2,34.9 L248.3,34.5 L249.5,34.1 L250.6,33.6 L251.8,33.2 L252.9,32.7 L254.1,32.3 L255.3,31.9 L256.4,31.4 L257.6,31.0 L258.7,30.6 L259.9,30.1 L261.0,29.7 L262.2,29.3 L263.4,28.9 L264.5,28.5 L265.7,28.1 L266.8,27.7 L268.0,27.2 L269.2,26.8 L270.3,26.4 L271.5,26.1 L272.7,25.7 L273.9,25.3 L275.0,24.9 L276.2,24.5 L277.4,24.1 L278.6,23.8 L279.7,23.4 L280.9,23.0 L282.1,22.7 L283.3,22.3 L284.5,22.0 L285.7,21.6 L286.9,21.3 L288.1,20.9 L289.3,20.6 L290.5,20.3 L291.8,19.9 L293.0,19.6 L294.2,19.3 L295.4,19.0 L296.7,18.7 L297.9,18.4 L299.1,18.1 L300.4,17.8 L301.6,17.5 L302.9,17.2 L304.1,16.9 L305.4,16.7 L306.7,16.4 L307.9,16.2" stroke="#000000" stroke-width="2.8" fill="none" stroke-linecap="round" stroke-linejoin="round"/>
<path d="M77.4,230.5 L78.6,230.2 L79.8,229.9 L81.0,229.6 L82.2,229.3 L83.3,229.0 L84.5,228.7 L85.7,228.4 L86.9,228.1 L88.1,227.8 L89.3,227.5 L90.5,227.2 L91.7,226.8 L92.9,226.5 L94.1,226.2 L95.3,225.9 L96.5,225.6 L97.7,225.2 L98.9,224.9 L100.1,224.6 L101.3,224.2 L102.5,223.9 L103.7,223.5 L104.9,223.2 L106.1,222.8 L107.3,222.5 L108.5,222.1 L109.7,221.8 L110.9,221.4 L112.1,221.0 L113.3,220.7 L114.5,220.3 L115.7,219.9 L116.9,219.5 L118.1,219.1 L119.3,218.8 L120.5,218.4 L121.7,218.0 L122.9,217.6 L124.1,217.2 L125.3,216.7 L126.4,216.3 L127.6,215.9 L128.8,215.5 L130.0,215.1 L131.1,214.6 L132.3,214.2 L133.5,213.8 L134.6,213.3 L135.8,212.9 L136.9,212.4 L138.1,212.0 L139.2,211.5 L140.3,211.0 L141.5,210.6 L142.6,210.1 L143.7,209.6 L144.9,209.1 L146.0,208.6 L147.1,208.1 L148.2,207.6 L149.3,207.1 L150.4,206.6 L151.5,206.1 L152.6,205.6 L153.7,205.1 L154.7,204.5 L155.8,204.0 L156.9,203.5 L158.0,202.9 L159.1,202.4 L160.2,201.9 L161.3,201.3 L162.4,200.8 L163.5,200.2 L164.6,199.7 L165.7,199.2 L166.9,198.6 L168.0,198.1 L169.2,197.6 L170.4,197.0 L171.6,196.5 L172.8,196.0 L174.0,195.4 L175.2,194.9 L176.5,194.4 L177.7,193.8 L178.9,193.3 L180.1,192.7 L181.3,192.1 L182.4,191.5 L183.6,190.9 L184.6,190.3 L185.7,189.6 L186.7,188.9 L187.6,188.1 L188.5,187.3 L189.3,186.5 L190.1,185.7 L190.8,184.7 L191.4,183.8 L192.0,182.8 L192.5,181.8 L193.0,180.8 L193.4,179.7 L193.8,178.6 L194.1,177.4 L194.4,176.3 L194.6,175.1 L194.8,173.9 L195.0,172.7 L195.1,171.5 L195.3,170.2 L195.4,169.0 L195.4,167.7 L195.5,166.4 L195.5,165.1 L195.6,163.9 L195.6,162.6 L195.6,161.3 L195.6,160.0 L195.6,158.7 L195.6,157.4 L195.6,156.2 L195.6,154.9 L195.7,153.7 L195.7,152.4 L195.7,151.1 L195.7,149.9 L195.7,148.6 L195.7,147.4 L195.7,146.2 L195.7,144.9 L195.8,143.7 L195.8,142.5 L195.8,141.2 L195.8,140.0 L195.8,138.8 L195.8,137.5 L195.9,136.3 L195.9,135.1 L195.9,133.9 L195.9,132.6 L196.0,131.4 L196.0,130.2 L196.0,129.0 L196.1,127.7 L196.1,126.5 L196.2,125.3 L196.2,124.1" stroke="#000000" stroke-width="1.9" fill="none" stroke-linecap="round" stroke-linejoin="round"/>
<path d="M196.2,124.1 L196.2,122.9 L196.3,121.7 L196.3,120.5 L196.4,119.3 L196.4,118.0 L196.5,116.8 L196.6,115.6 L196.6,114.4 L196.7,113.2 L196.7,112.0 L196.8,110.8 L196.9,109.6 L196.9,108.4 L197.0,107.2 L197.1,106.0 L197.1,104.7 L197.2,103.5 L197.2,102.3 L197.3,101.1 L197.4,99.9 L197.4,98.7 L197.5,97.4 L197.5,96.2 L197.6,95.0 L197.7,93.8 L197.7,92.6 L197.8,91.4 L197.8,90.1 L197.9,88.9 L197.9,87.7 L197.9,86.5 L198.0,85.3 L198.0,84.0 L198.1,82.8 L198.1,81.6 L198.1,80.4 L198.1,79.2 L198.2,77.9 L198.2,76.7 L198.2,75.5 L198.2,74.2 L198.3,73.0 L198.3,71.8 L198.4,70.5 L198.5,69.3 L198.6,68.0 L198.8,66.7 L199.0,65.5 L199.3,64.3 L199.6,63.1 L200.1,62.0 L200.6,61.0 L201.2,60.1 L201.9,59.1 L202.6,58.3 L203.4,57.5 L204.3,56.7 L205.2,55.9 L206.1,55.2 L207.1,54.5 L208.1,53.9 L209.1,53.2 L210.2,52.6 L211.2,52.0 L212.3,51.4 L213.4,50.8 L214.5,50.2 L215.5,49.7 L216.6,49.1 L217.7,48.5 L218.8,47.9 L219.9,47.4 L221.0,46.8 L222.0,46.3 L223.1,45.7 L224.2,45.2 L225.3,44.7 L226.4,44.1 L227.5,43.6 L228.6,43.1 L229.7,42.6 L230.8,42.1 L231.9,41.6 L233.0,41.1 L234.1,40.6 L235.3,40.1 L236.4,39.6 L237.5,39.1 L238.6,38.6 L239.7,38.2 L240.8,37.7 L242.0,37.2 L243.1,36.8 L244.2,36.3 L245.3,35.9 L246.5,35.4 L247.6,35.0 L248.7,34.5 L249.8,34.1 L251.0,33.7 L252.1,33.2 L253.3,32.8 L254.4,32.4 L255.5,32.0 L256.7,31.6 L257.8,31.1 L258.9,30.7 L260.1,30.3 L261.2,29.9 L262.4,29.5 L263.5,29.2 L264.7,28.8 L265.8,28.4 L267.0,28.0 L268.1,27.6 L269.3,27.2 L270.4,26.9 L271.6,26.5 L272.7,26.1 L273.9,25.8 L275.1,25.4 L276.2,25.1 L277.4,24.7 L278.5,24.4 L279.7,24.0 L280.9,23.7 L282.0,23.3 L283.2,23.0 L284.4,22.6 L285.5,22.3 L286.7,22.0 L287.8,21.6 L289.0,21.3 L290.2,21.0 L291.4,20.7 L292.5,20.3 L293.7,20.0 L294.9,19.7 L296.0,19.4 L297.2,19.1 L298.4,18.7 L299.6,18.4 L300.7,18.1 L301.9,17.8 L303.1,17.5 L304.2,17.2 L305.4,16.9 L306.6,16.6 L307.8,16.3" stroke="#000000" stroke-width="1.8" fill="none" stroke-linecap="round" stroke-linejoin="round"/>
<!-- frame -->
<path d="M36.5,0V247.6H350" fill="none" stroke="#222" stroke-width="1.2"/>
<path d="M36.4,0.5H350M349.45,0V248" fill="none" stroke="#222" stroke-width="1.05"/>
<!-- ticks -->
<g stroke="#1a1a1a" stroke-width="1.1">
<line x1="81.3" y1="247" x2="81.3" y2="243.6"/><line x1="137.4" y1="247" x2="137.4" y2="243.6"/><line x1="193.5" y1="247" x2="193.5" y2="243.6"/><line x1="249.6" y1="247" x2="249.6" y2="243.6"/><line x1="305.7" y1="247" x2="305.7" y2="243.6"/>
<line x1="81.3" y1="1" x2="81.3" y2="4.4"/><line x1="137.4" y1="1" x2="137.4" y2="4.4"/><line x1="193.5" y1="1" x2="193.5" y2="4.4"/><line x1="249.6" y1="1" x2="249.6" y2="4.4"/><line x1="305.7" y1="1" x2="305.7" y2="4.4"/>
<line x1="36" y1="28.7" x2="40.3" y2="28.7"/><line x1="36" y1="76.3" x2="40.3" y2="76.3"/><line x1="36" y1="123.9" x2="40.3" y2="123.9"/><line x1="36" y1="171.5" x2="40.3" y2="171.5"/><line x1="36" y1="219.1" x2="40.3" y2="219.1"/>
<line x1="350" y1="28.7" x2="345.8" y2="28.7"/><line x1="350" y1="76.3" x2="345.8" y2="76.3"/><line x1="350" y1="123.9" x2="345.8" y2="123.9"/><line x1="350" y1="171.5" x2="345.8" y2="171.5"/><line x1="350" y1="219.1" x2="345.8" y2="219.1"/>
</g>
<!-- tick labels -->
<g class="t" text-anchor="end">
<text x="32.2" y="33.5">1</text><text x="32.2" y="81">0.5</text><text x="33" y="128.6">0</text><text x="28.8" y="176.3">-0.5</text><text x="29.2" y="224">-1</text>
</g>
<g class="t" text-anchor="end">
<text x="86.8" y="262">-100</text><text x="139.9" y="262">-50</text><text x="195.8" y="262">0</text><text x="254.2" y="262">50</text><text x="313.2" y="262">100</text>
</g>
<text class="t" x="195" y="274.6" text-anchor="middle"><tspan font-style="italic">H</tspan> (kA/m)</text>
<text class="t" transform="translate(8.8,123.4) rotate(-90)" text-anchor="middle"><tspan font-style="italic">B</tspan> (T)</text>
<!-- labels -->
<text class="b" x="137.5" y="39" fill="#000">free</text>
<text class="b" x="157" y="28.5" fill="#555">8 MPa</text>
<text class="b" x="196" y="26.7" fill="#641a25">16 MPa</text>
<text class="b" x="227.2" y="13.5" fill="#8c8c5a">25 MPa</text>
<text class="b" x="314" y="40.2" fill="#7d8062">35 MPa</text>
<text class="b" x="314" y="49.9" fill="#525230">45 MPa</text>
<text class="b" x="314" y="64.1" fill="#7b9be0">60 MPa</text>
<text class="b" x="314.5" y="80" fill="#33386b">90 MPa</text>
<text class="b" x="250.2" y="221.5" fill="#000">Mean error</text>
<path d="M305.2,216.6V221.4M303.7,219H306.7" stroke="#000" stroke-width="1.1" fill="none"/>
<!-- arrows -->
<line x1="157.0" y1="37.0" x2="188.1" y2="66.0" stroke="#111" stroke-width="1.1"/><polygon points="191.9,69.5 185.2,67.6 189.5,62.9" fill="#111"/>
<line x1="186.0" y1="28.2" x2="208.9" y2="56.7" stroke="#111" stroke-width="1.1"/><polygon points="212.2,60.8 205.8,58.0 210.8,54.0" fill="#111"/>
<line x1="214.3" y1="30.0" x2="229.2" y2="53.8" stroke="#111" stroke-width="1.1"/><polygon points="232.0,58.2 226.0,54.6 231.4,51.2" fill="#111"/>
<line x1="242.2" y1="17.3" x2="260.2" y2="47.6" stroke="#111" stroke-width="1.1"/><polygon points="262.8,52.1 256.9,48.4 262.4,45.1" fill="#111"/>
</g>
</svg>
</body></html>
